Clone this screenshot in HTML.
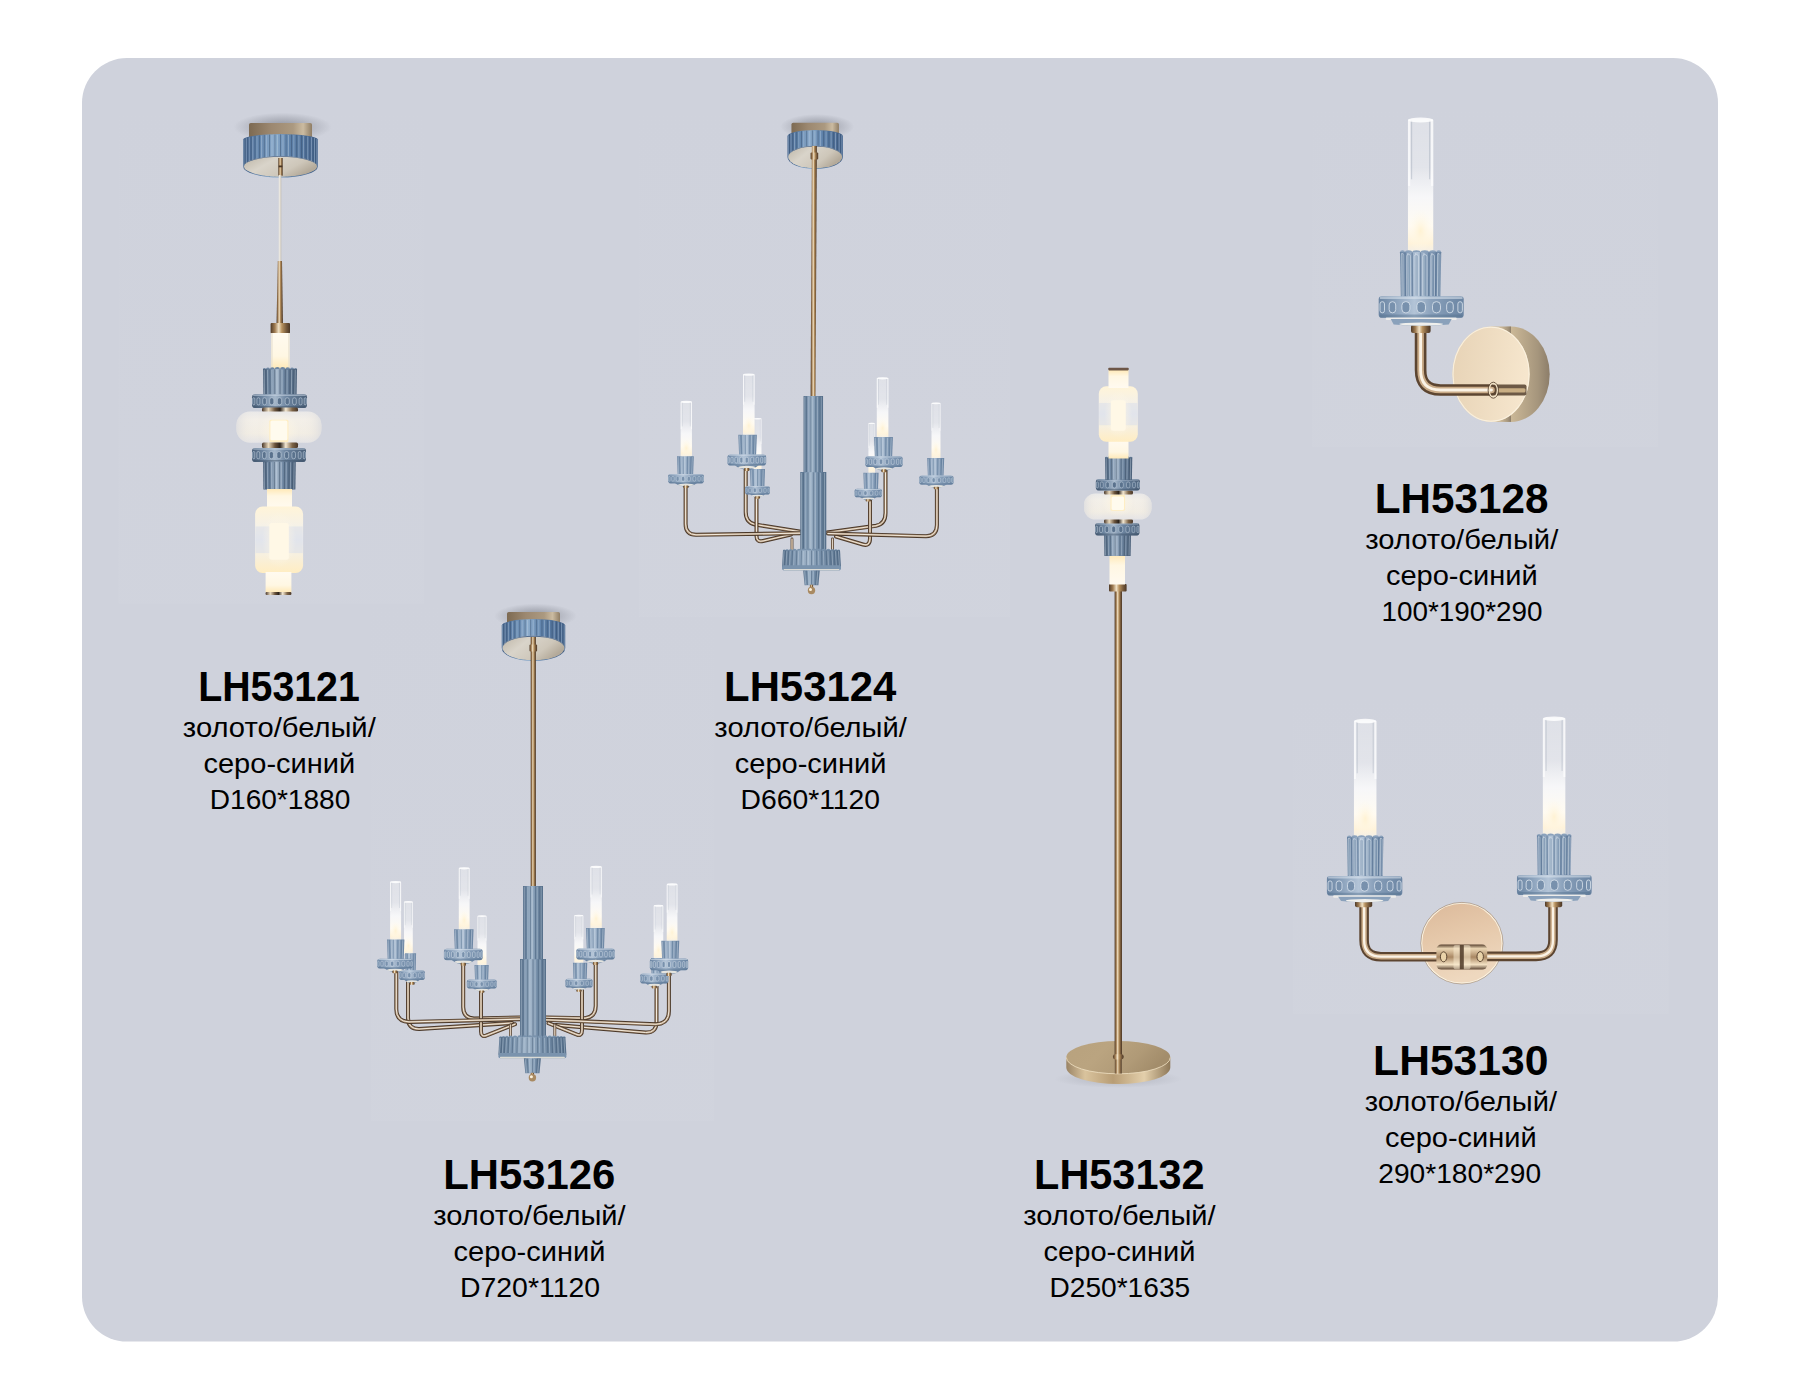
<!DOCTYPE html>
<html lang="ru">
<head>
<meta charset="utf-8">
<title>LH531xx</title>
<style>
html,body{margin:0;padding:0;background:#ffffff;}
body{width:1801px;height:1400px;overflow:hidden;font-family:"Liberation Sans",sans-serif;}
svg{display:block;position:absolute;left:0;top:0;}
.t{font-family:"Liberation Sans",sans-serif;font-weight:700;font-size:43.4px;fill:#000000;}
.b{font-family:"Liberation Sans",sans-serif;font-weight:400;font-size:28.4px;fill:#000000;}
</style>
</head>
<body>
<svg xmlns="http://www.w3.org/2000/svg" width="1801" height="1400" viewBox="0 0 1801 1400">
<defs>
<linearGradient id="gGold" x1="0" y1="0" x2="1" y2="0"><stop offset="0" stop-color="#4f3a27"/><stop offset="0.22" stop-color="#a07c52"/><stop offset="0.42" stop-color="#f1e2c6"/><stop offset="0.58" stop-color="#b8925f"/><stop offset="0.82" stop-color="#73573a"/><stop offset="1" stop-color="#4a3625"/></linearGradient>
<linearGradient id="gGoldV" x1="0" y1="0" x2="0" y2="1"><stop offset="0" stop-color="#6b5138"/><stop offset="0.3" stop-color="#f3e4c9"/><stop offset="0.6" stop-color="#bf9d70"/><stop offset="1" stop-color="#5f4630"/></linearGradient>
<linearGradient id="gGoldTop" x1="0" y1="0" x2="1" y2="0"><stop offset="0" stop-color="#7d6a52"/><stop offset="0.35" stop-color="#9c8870"/><stop offset="0.7" stop-color="#ab9980"/><stop offset="0.86" stop-color="#cbbba1"/><stop offset="1" stop-color="#8f7d64"/></linearGradient>
<linearGradient id="gGoldUnder" x1="0" y1="0" x2="1" y2="0.5"><stop offset="0" stop-color="#bdb5a6"/><stop offset="0.4" stop-color="#d9d4ca"/><stop offset="0.75" stop-color="#cec7ba"/><stop offset="1" stop-color="#b4aa9a"/></linearGradient>
<linearGradient id="gRing" x1="0" y1="0" x2="1" y2="0"><stop offset="0" stop-color="#4a382a"/><stop offset="0.18" stop-color="#e9d9bd"/><stop offset="0.36" stop-color="#6b543c"/><stop offset="0.5" stop-color="#2e241b"/><stop offset="0.66" stop-color="#f4e8d2"/><stop offset="0.84" stop-color="#7d6447"/><stop offset="1" stop-color="#4a382a"/></linearGradient>
<linearGradient id="gBlueD" x1="0" y1="0" x2="1" y2="0"><stop offset="0" stop-color="#4a5f78"/><stop offset="0.2" stop-color="#6e86a1"/><stop offset="0.42" stop-color="#a5b7ca"/><stop offset="0.62" stop-color="#6e86a1"/><stop offset="1" stop-color="#4a5f78"/></linearGradient>
<linearGradient id="gBlueL" x1="0" y1="0" x2="1" y2="0"><stop offset="0" stop-color="#6a84a2"/><stop offset="0.2" stop-color="#8aa1bb"/><stop offset="0.42" stop-color="#b3c4d7"/><stop offset="0.62" stop-color="#8aa1bb"/><stop offset="1" stop-color="#6a84a2"/></linearGradient>
<linearGradient id="gBlueK" x1="0" y1="0" x2="1" y2="0"><stop offset="0" stop-color="#556e89"/><stop offset="0.2" stop-color="#7a93ad"/><stop offset="0.42" stop-color="#a2b6ca"/><stop offset="0.62" stop-color="#7a93ad"/><stop offset="1" stop-color="#556e89"/></linearGradient>
<linearGradient id="gBlueC" x1="0" y1="0" x2="1" y2="0"><stop offset="0" stop-color="#43618a"/><stop offset="0.2" stop-color="#6083ab"/><stop offset="0.42" stop-color="#8babcb"/><stop offset="0.62" stop-color="#6083ab"/><stop offset="1" stop-color="#43618a"/></linearGradient>
<linearGradient id="gTube" x1="0" y1="0" x2="0" y2="1"><stop offset="0" stop-color="#ffffff" stop-opacity="0.32"/><stop offset="0.36" stop-color="#ffffff" stop-opacity="0.4"/><stop offset="0.58" stop-color="#fafafb" stop-opacity="0.92"/><stop offset="0.8" stop-color="#fffbf2" stop-opacity="1"/><stop offset="0.93" stop-color="#fff3da" stop-opacity="1"/><stop offset="1" stop-color="#f3efe8" stop-opacity="1"/></linearGradient>
<linearGradient id="gWarmV" x1="0" y1="0" x2="0" y2="1"><stop offset="0" stop-color="#fffaf0"/><stop offset="0.65" stop-color="#fff7e3"/><stop offset="1" stop-color="#ffe9b8"/></linearGradient>
<linearGradient id="gWarmV2" x1="0" y1="0" x2="0" y2="1"><stop offset="0" stop-color="#ffe9b8"/><stop offset="0.35" stop-color="#fff7e3"/><stop offset="1" stop-color="#fffaf0"/></linearGradient>
<linearGradient id="gBodyGlass" x1="0" y1="0" x2="0" y2="1"><stop offset="0" stop-color="#fff4d8"/><stop offset="0.3" stop-color="#f5f1e8"/><stop offset="0.5" stop-color="#e8ebf1"/><stop offset="0.72" stop-color="#f7f0e0"/><stop offset="1" stop-color="#ffedc2"/></linearGradient>
<linearGradient id="gTorus" x1="0" y1="0" x2="0" y2="1"><stop offset="0" stop-color="#e9e8e8"/><stop offset="0.25" stop-color="#f3efe8"/><stop offset="0.7" stop-color="#f2ede3"/><stop offset="1" stop-color="#e4e3e5"/></linearGradient>
<linearGradient id="gTorusH" x1="0" y1="0" x2="1" y2="0"><stop offset="0" stop-color="#d4d6dd" stop-opacity="0.6"/><stop offset="0.12" stop-color="#e6e4e2" stop-opacity="0.2"/><stop offset="0.28" stop-color="#ffffff" stop-opacity="0"/><stop offset="0.72" stop-color="#ffffff" stop-opacity="0"/><stop offset="0.88" stop-color="#e6e4e2" stop-opacity="0.2"/><stop offset="1" stop-color="#d4d6dd" stop-opacity="0.6"/></linearGradient>
<radialGradient id="gGlow" cx="0.5" cy="0.5" r="0.5"><stop offset="0" stop-color="#fff1cf" stop-opacity="0.85"/><stop offset="0.5" stop-color="#fff6e0" stop-opacity="0.45"/><stop offset="1" stop-color="#fff9ec" stop-opacity="0"/></radialGradient>
<radialGradient id="gShadow" cx="0.5" cy="0.5" r="0.5"><stop offset="0" stop-color="#4a4d58" stop-opacity="0.5"/><stop offset="0.55" stop-color="#4a4d58" stop-opacity="0.22"/><stop offset="1" stop-color="#4a4d58" stop-opacity="0"/></radialGradient>
<linearGradient id="gPhotoV" x1="0" y1="0" x2="0" y2="1"><stop offset="0" stop-color="#d3d6df" stop-opacity="0"/><stop offset="0.35" stop-color="#d3d6df" stop-opacity="0.14"/><stop offset="1" stop-color="#d3d6df" stop-opacity="0.36"/></linearGradient>
<linearGradient id="gBaseTop" x1="0" y1="0" x2="1" y2="0.3"><stop offset="0" stop-color="#b8a27e"/><stop offset="0.4" stop-color="#baa480"/><stop offset="0.75" stop-color="#b09a77"/><stop offset="1" stop-color="#a38d6b"/></linearGradient>
<linearGradient id="gBaseSide" x1="0" y1="0" x2="1" y2="0"><stop offset="0" stop-color="#9a8465"/><stop offset="0.18" stop-color="#d9c39d"/><stop offset="0.45" stop-color="#b89d75"/><stop offset="0.75" stop-color="#e3cfab"/><stop offset="1" stop-color="#8e7858"/></linearGradient>
<linearGradient id="gPlate" x1="0" y1="0" x2="1" y2="0.15"><stop offset="0" stop-color="#e7d3b6"/><stop offset="0.5" stop-color="#eedcc1"/><stop offset="1" stop-color="#f6e6cd"/></linearGradient>
<linearGradient id="gPlate2" x1="0" y1="0" x2="0.3" y2="1"><stop offset="0" stop-color="#dbb99a"/><stop offset="0.5" stop-color="#e6c9ab"/><stop offset="1" stop-color="#eed8bf"/></linearGradient>
<linearGradient id="gPlateSide" x1="0" y1="0" x2="1" y2="0"><stop offset="0" stop-color="#d9c7a8"/><stop offset="0.5" stop-color="#cbb897"/><stop offset="0.85" stop-color="#a5957c"/><stop offset="1" stop-color="#8c7d69"/></linearGradient>
<linearGradient id="gBlock" x1="0" y1="0" x2="0" y2="1"><stop offset="0" stop-color="#5a4331"/><stop offset="0.16" stop-color="#ead5b3"/><stop offset="0.5" stop-color="#a98763"/><stop offset="0.8" stop-color="#f3e1c3"/><stop offset="1" stop-color="#5a4331"/></linearGradient>
</defs>

<rect x="82" y="58" width="1636" height="1283.6" rx="45" ry="45" fill="#cfd2dc"/>
<clipPath id="cpPanel"><rect x="82" y="58" width="1636" height="1283.6" rx="45" ry="45"/></clipPath>
<g id="photos" clip-path="url(#cpPanel)"><rect x="118.5" y="100" width="305.5" height="503.6" fill="url(#gPhotoV)"/><rect x="639" y="100" width="371" height="517" fill="url(#gPhotoV)"/><rect x="371" y="590" width="343" height="531" fill="url(#gPhotoV)"/><rect x="1312" y="100" width="346" height="347" fill="url(#gPhotoV)"/><rect x="1293" y="690" width="375.6" height="324" fill="url(#gPhotoV)"/></g>

<g id="pendant"><ellipse cx="282.5" cy="127" rx="49.14" ry="14.38" fill="url(#gShadow)"/><rect x="249" y="123" width="63" height="16.5" fill="url(#gGoldTop)" rx="1.8"/><path d="M243.15 139.6 A37.35 5.6 0 0 1 317.85 139.6 L317.85 166.4 A37.35 11.1 0 0 1 243.15 166.4Z" fill="url(#gBlueC)"/><line x1="243.97" y1="139.24" x2="243.97" y2="167.51" stroke="#c9d9e9" stroke-width="0.7" stroke-opacity="0.55"/><line x1="245.15" y1="138.19" x2="245.15" y2="169.38" stroke="#344d6c" stroke-width="0.8" stroke-opacity="0.6"/><line x1="246.27" y1="138.16" x2="246.27" y2="169.64" stroke="#c9d9e9" stroke-width="0.7" stroke-opacity="0.55"/><line x1="247.82" y1="137.29" x2="247.82" y2="171.18" stroke="#344d6c" stroke-width="0.8" stroke-opacity="0.6"/><line x1="249.23" y1="137.34" x2="249.23" y2="171.27" stroke="#c9d9e9" stroke-width="0.7" stroke-opacity="0.55"/><line x1="251.13" y1="136.54" x2="251.13" y2="172.66" stroke="#344d6c" stroke-width="0.8" stroke-opacity="0.6"/><line x1="252.82" y1="136.64" x2="252.82" y2="172.65" stroke="#c9d9e9" stroke-width="0.7" stroke-opacity="0.55"/><line x1="255.03" y1="135.9" x2="255.03" y2="173.92" stroke="#344d6c" stroke-width="0.8" stroke-opacity="0.6"/><line x1="256.96" y1="136.05" x2="256.96" y2="173.82" stroke="#c9d9e9" stroke-width="0.7" stroke-opacity="0.55"/><line x1="259.46" y1="135.37" x2="259.46" y2="174.97" stroke="#344d6c" stroke-width="0.8" stroke-opacity="0.6"/><line x1="261.59" y1="135.57" x2="261.59" y2="174.77" stroke="#c9d9e9" stroke-width="0.7" stroke-opacity="0.55"/><line x1="264.31" y1="134.95" x2="264.31" y2="175.8" stroke="#344d6c" stroke-width="0.8" stroke-opacity="0.6"/><line x1="266.62" y1="135.2" x2="266.62" y2="175.5" stroke="#c9d9e9" stroke-width="0.7" stroke-opacity="0.55"/><line x1="269.52" y1="134.65" x2="269.52" y2="176.41" stroke="#344d6c" stroke-width="0.8" stroke-opacity="0.6"/><line x1="271.94" y1="134.95" x2="271.94" y2="176" stroke="#c9d9e9" stroke-width="0.7" stroke-opacity="0.55"/><line x1="274.95" y1="134.46" x2="274.95" y2="176.78" stroke="#344d6c" stroke-width="0.8" stroke-opacity="0.6"/><line x1="277.44" y1="134.82" x2="277.44" y2="176.26" stroke="#c9d9e9" stroke-width="0.7" stroke-opacity="0.55"/><line x1="280.5" y1="134.4" x2="280.5" y2="176.9" stroke="#344d6c" stroke-width="0.8" stroke-opacity="0.6"/><line x1="283.01" y1="134.81" x2="283.01" y2="176.28" stroke="#c9d9e9" stroke-width="0.7" stroke-opacity="0.55"/><line x1="286.05" y1="134.46" x2="286.05" y2="176.78" stroke="#344d6c" stroke-width="0.8" stroke-opacity="0.6"/><line x1="288.52" y1="134.93" x2="288.52" y2="176.04" stroke="#c9d9e9" stroke-width="0.7" stroke-opacity="0.55"/><line x1="291.48" y1="134.65" x2="291.48" y2="176.41" stroke="#344d6c" stroke-width="0.8" stroke-opacity="0.6"/><line x1="293.86" y1="135.17" x2="293.86" y2="175.57" stroke="#c9d9e9" stroke-width="0.7" stroke-opacity="0.55"/><line x1="296.69" y1="134.95" x2="296.69" y2="175.8" stroke="#344d6c" stroke-width="0.8" stroke-opacity="0.6"/><line x1="298.92" y1="135.53" x2="298.92" y2="174.86" stroke="#c9d9e9" stroke-width="0.7" stroke-opacity="0.55"/><line x1="301.54" y1="135.37" x2="301.54" y2="174.97" stroke="#344d6c" stroke-width="0.8" stroke-opacity="0.6"/><line x1="303.59" y1="136" x2="303.59" y2="173.92" stroke="#c9d9e9" stroke-width="0.7" stroke-opacity="0.55"/><line x1="305.97" y1="135.9" x2="305.97" y2="173.92" stroke="#344d6c" stroke-width="0.8" stroke-opacity="0.6"/><line x1="307.79" y1="136.58" x2="307.79" y2="172.78" stroke="#c9d9e9" stroke-width="0.7" stroke-opacity="0.55"/><line x1="309.87" y1="136.54" x2="309.87" y2="172.66" stroke="#344d6c" stroke-width="0.8" stroke-opacity="0.6"/><line x1="311.43" y1="137.26" x2="311.43" y2="171.42" stroke="#c9d9e9" stroke-width="0.7" stroke-opacity="0.55"/><line x1="313.18" y1="137.29" x2="313.18" y2="171.18" stroke="#344d6c" stroke-width="0.8" stroke-opacity="0.6"/><line x1="314.46" y1="138.07" x2="314.46" y2="169.82" stroke="#c9d9e9" stroke-width="0.7" stroke-opacity="0.55"/><line x1="315.85" y1="138.19" x2="315.85" y2="169.38" stroke="#344d6c" stroke-width="0.8" stroke-opacity="0.6"/><line x1="316.83" y1="139.1" x2="316.83" y2="167.77" stroke="#c9d9e9" stroke-width="0.7" stroke-opacity="0.55"/><ellipse cx="280.5" cy="166.4" rx="36.55" ry="10.3" fill="url(#gGoldUnder)"/><path d="M243.95 166.4 A36.55 10.3 0 0 1 317.05 166.4 A36.55 9.58 0 0 0 243.95 166.4Z" fill="#43618a" fill-opacity="0.9"/><path d="M259.96 159.52 A20.54 3.33 0 0 1 301.04 159.52 A20.54 2.44 0 0 0 259.96 159.52Z" fill="#e9e4d8" fill-opacity="0.0"/><rect x="278.3" y="158" width="4.4" height="17.7" fill="url(#gGold)"/><rect x="278.7" y="165.5" width="3.6" height="1.8" fill="#4a3625"/><line x1="279.9" y1="175" x2="279.9" y2="262" stroke="#e9e6df" stroke-width="2.3"/><line x1="280.9" y1="175" x2="280.9" y2="262" stroke="#b7b0a2" stroke-width="0.6"/><path d="M277.8 261 L282 261 L283 324 L276.5 324Z" fill="url(#gGold)"/><rect x="270.6" y="323" width="19.4" height="10.5" fill="url(#gGold)" rx="1"/><rect x="271.2" y="333" width="18.4" height="35.5" fill="url(#gWarmV)"/><rect x="271.2" y="333" width="1.6" height="35" fill="#e9e2d2" fill-opacity="0.7"/><rect x="288" y="333" width="1.6" height="35" fill="#e9e2d2" fill-opacity="0.7"/><ellipse cx="264.46" cy="369.3" rx="1.46" ry="1.23" fill="#6e86a1"/><ellipse cx="267.92" cy="369.3" rx="2" ry="1.68" fill="#6e86a1"/><ellipse cx="272.33" cy="369.3" rx="2.41" ry="2.02" fill="#6e86a1"/><ellipse cx="277.37" cy="369.3" rx="2.63" ry="2.2" fill="#6e86a1"/><ellipse cx="282.63" cy="369.3" rx="2.63" ry="2.2" fill="#6e86a1"/><ellipse cx="287.67" cy="369.3" rx="2.41" ry="2.02" fill="#6e86a1"/><ellipse cx="292.08" cy="369.3" rx="2" ry="1.68" fill="#6e86a1"/><ellipse cx="295.54" cy="369.3" rx="1.46" ry="1.23" fill="#6e86a1"/><path d="M263 369 L297 369 L296.6 395 L263.4 395Z" fill="url(#gBlueD)"/><line x1="264.17" y1="369.8" x2="264.54" y2="394.4" stroke="#c9d6e3" stroke-width="0.85" stroke-opacity="0.5"/><line x1="265.92" y1="369.3" x2="266.25" y2="394.8" stroke="#3a4d63" stroke-width="0.85" stroke-opacity="0.62"/><line x1="267.52" y1="369.8" x2="267.81" y2="394.4" stroke="#c9d6e3" stroke-width="0.85" stroke-opacity="0.5"/><line x1="269.92" y1="369.3" x2="270.15" y2="394.8" stroke="#3a4d63" stroke-width="0.85" stroke-opacity="0.62"/><line x1="271.84" y1="369.8" x2="272.04" y2="394.4" stroke="#c9d6e3" stroke-width="0.85" stroke-opacity="0.5"/><line x1="274.73" y1="369.3" x2="274.86" y2="394.8" stroke="#3a4d63" stroke-width="0.85" stroke-opacity="0.62"/><line x1="276.84" y1="369.8" x2="276.92" y2="394.4" stroke="#c9d6e3" stroke-width="0.85" stroke-opacity="0.5"/><line x1="280" y1="369.3" x2="280" y2="394.8" stroke="#3a4d63" stroke-width="0.85" stroke-opacity="0.62"/><line x1="282.11" y1="369.8" x2="282.06" y2="394.4" stroke="#c9d6e3" stroke-width="0.85" stroke-opacity="0.5"/><line x1="285.27" y1="369.3" x2="285.14" y2="394.8" stroke="#3a4d63" stroke-width="0.85" stroke-opacity="0.62"/><line x1="287.19" y1="369.8" x2="287.02" y2="394.4" stroke="#c9d6e3" stroke-width="0.85" stroke-opacity="0.5"/><line x1="290.08" y1="369.3" x2="289.85" y2="394.8" stroke="#3a4d63" stroke-width="0.85" stroke-opacity="0.62"/><line x1="291.68" y1="369.8" x2="291.41" y2="394.4" stroke="#c9d6e3" stroke-width="0.85" stroke-opacity="0.5"/><line x1="294.08" y1="369.3" x2="293.75" y2="394.8" stroke="#3a4d63" stroke-width="0.85" stroke-opacity="0.62"/><line x1="295.25" y1="369.8" x2="294.89" y2="394.4" stroke="#c9d6e3" stroke-width="0.85" stroke-opacity="0.5"/><rect x="252" y="394.3" width="55" height="13.7" fill="url(#gBlueD)" rx="3"/><rect x="253.2" y="394.5" width="52.6" height="1.58" fill="#c9d6e3" rx="0.4" fill-opacity="0.55"/><rect x="253.2" y="405.94" width="52.6" height="1.95" fill="#3a4d63" rx="0.4" fill-opacity="0.45"/><rect x="252.66" y="397.73" width="2.16" height="7.12" rx="1.08" fill="#5a728d" stroke="#c9d6e3" stroke-opacity="0.8" stroke-width="0.68"/><rect x="256.93" y="397.73" width="2.99" height="7.12" rx="1.5" fill="#5a728d" stroke="#c9d6e3" stroke-opacity="0.8" stroke-width="0.68"/><rect x="262.71" y="397.73" width="3.68" height="7.12" rx="1.84" fill="#5a728d" stroke="#c9d6e3" stroke-opacity="0.8" stroke-width="0.68"/><rect x="269.68" y="397.73" width="4.12" height="7.12" rx="2.06" fill="#5a728d" stroke="#c9d6e3" stroke-opacity="0.8" stroke-width="0.68"/><rect x="277.36" y="397.73" width="4.28" height="7.12" rx="2.14" fill="#5a728d" stroke="#c9d6e3" stroke-opacity="0.8" stroke-width="0.68"/><rect x="285.2" y="397.73" width="4.12" height="7.12" rx="2.06" fill="#5a728d" stroke="#c9d6e3" stroke-opacity="0.8" stroke-width="0.68"/><rect x="292.61" y="397.73" width="3.68" height="7.12" rx="1.84" fill="#5a728d" stroke="#c9d6e3" stroke-opacity="0.8" stroke-width="0.68"/><rect x="299.08" y="397.73" width="2.99" height="7.12" rx="1.5" fill="#5a728d" stroke="#c9d6e3" stroke-opacity="0.8" stroke-width="0.68"/><rect x="304.18" y="397.73" width="2.16" height="7.12" rx="1.08" fill="#5a728d" stroke="#c9d6e3" stroke-opacity="0.8" stroke-width="0.68"/><rect x="262" y="407.5" width="36" height="4.5" fill="url(#gRing)" rx="1.6"/><rect x="236.4" y="411.6" width="85" height="31.2" fill="url(#gTorus)" rx="13.73"/><rect x="236.4" y="411.6" width="85" height="31.2" fill="url(#gTorusH)" rx="13.73"/><ellipse cx="278.9" cy="430.96" rx="20.4" ry="19.11" fill="url(#gGlow)"/><rect x="269.4" y="419.71" width="19" height="22.49" fill="#ffeec2" rx="1.5"/><rect x="270.4" y="420.51" width="17" height="19.69" fill="#fffbee" rx="1.5"/><rect x="262" y="442.6" width="36" height="5.4" fill="url(#gRing)" rx="1.6"/><rect x="252" y="448" width="54" height="14" fill="url(#gBlueD)" rx="3"/><rect x="253.2" y="448.2" width="51.6" height="1.62" fill="#c9d6e3" rx="0.4" fill-opacity="0.55"/><rect x="253.2" y="459.9" width="51.6" height="2" fill="#3a4d63" rx="0.4" fill-opacity="0.45"/><rect x="252.65" y="451.5" width="2.12" height="7.28" rx="1.06" fill="#5a728d" stroke="#c9d6e3" stroke-opacity="0.8" stroke-width="0.7"/><rect x="256.84" y="451.5" width="2.94" height="7.28" rx="1.47" fill="#5a728d" stroke="#c9d6e3" stroke-opacity="0.8" stroke-width="0.7"/><rect x="262.52" y="451.5" width="3.61" height="7.28" rx="1.81" fill="#5a728d" stroke="#c9d6e3" stroke-opacity="0.8" stroke-width="0.7"/><rect x="269.36" y="451.5" width="4.05" height="7.28" rx="2.02" fill="#5a728d" stroke="#c9d6e3" stroke-opacity="0.8" stroke-width="0.7"/><rect x="276.9" y="451.5" width="4.2" height="7.28" rx="2.1" fill="#5a728d" stroke="#c9d6e3" stroke-opacity="0.8" stroke-width="0.7"/><rect x="284.59" y="451.5" width="4.05" height="7.28" rx="2.02" fill="#5a728d" stroke="#c9d6e3" stroke-opacity="0.8" stroke-width="0.7"/><rect x="291.87" y="451.5" width="3.61" height="7.28" rx="1.81" fill="#5a728d" stroke="#c9d6e3" stroke-opacity="0.8" stroke-width="0.7"/><rect x="298.22" y="451.5" width="2.94" height="7.28" rx="1.47" fill="#5a728d" stroke="#c9d6e3" stroke-opacity="0.8" stroke-width="0.7"/><rect x="303.24" y="451.5" width="2.12" height="7.28" rx="1.06" fill="#5a728d" stroke="#c9d6e3" stroke-opacity="0.8" stroke-width="0.7"/><path d="M263 461.5 L295.8 461.5 L295.4 489.5 L263.4 489.5Z" fill="url(#gBlueD)"/><line x1="264.13" y1="462.3" x2="264.5" y2="488.9" stroke="#c9d6e3" stroke-width="0.82" stroke-opacity="0.5"/><line x1="265.82" y1="461.8" x2="266.15" y2="489.3" stroke="#3a4d63" stroke-width="0.82" stroke-opacity="0.62"/><line x1="267.36" y1="462.3" x2="267.65" y2="488.9" stroke="#c9d6e3" stroke-width="0.82" stroke-opacity="0.5"/><line x1="269.67" y1="461.8" x2="269.91" y2="489.3" stroke="#3a4d63" stroke-width="0.82" stroke-opacity="0.62"/><line x1="271.53" y1="462.3" x2="271.72" y2="488.9" stroke="#c9d6e3" stroke-width="0.82" stroke-opacity="0.5"/><line x1="274.32" y1="461.8" x2="274.44" y2="489.3" stroke="#3a4d63" stroke-width="0.82" stroke-opacity="0.62"/><line x1="276.35" y1="462.3" x2="276.43" y2="488.9" stroke="#c9d6e3" stroke-width="0.82" stroke-opacity="0.5"/><line x1="279.4" y1="461.8" x2="279.4" y2="489.3" stroke="#3a4d63" stroke-width="0.82" stroke-opacity="0.62"/><line x1="281.43" y1="462.3" x2="281.38" y2="488.9" stroke="#c9d6e3" stroke-width="0.82" stroke-opacity="0.5"/><line x1="284.48" y1="461.8" x2="284.36" y2="489.3" stroke="#3a4d63" stroke-width="0.82" stroke-opacity="0.62"/><line x1="286.34" y1="462.3" x2="286.17" y2="488.9" stroke="#c9d6e3" stroke-width="0.82" stroke-opacity="0.5"/><line x1="289.13" y1="461.8" x2="288.89" y2="489.3" stroke="#3a4d63" stroke-width="0.82" stroke-opacity="0.62"/><line x1="290.67" y1="462.3" x2="290.4" y2="488.9" stroke="#c9d6e3" stroke-width="0.82" stroke-opacity="0.5"/><line x1="292.98" y1="461.8" x2="292.65" y2="489.3" stroke="#3a4d63" stroke-width="0.82" stroke-opacity="0.62"/><line x1="294.11" y1="462.3" x2="293.75" y2="488.9" stroke="#c9d6e3" stroke-width="0.82" stroke-opacity="0.5"/><rect x="267" y="489" width="25" height="20" fill="url(#gWarmV2)"/><rect x="255.1" y="506.5" width="48" height="66.5" fill="url(#gBodyGlass)" rx="7.5"/><rect x="255.5" y="526.45" width="47.2" height="26.6" fill="#dde1e8" fill-opacity="0.62"/><ellipse cx="279.1" cy="539.75" rx="17.28" ry="27.93" fill="url(#gGlow)"/><rect x="269.35" y="523.12" width="19.5" height="36.58" fill="#fff8e6" rx="2.5" fill-opacity="0.96"/><rect x="265.6" y="572" width="25.8" height="20.3" fill="url(#gWarmV)"/><rect x="265.6" y="592" width="25.8" height="3" fill="url(#gRing)" rx="1"/></g>

<g id="chandelier6"><ellipse cx="817.2" cy="126.7" rx="37.05" ry="12.72" fill="url(#gShadow)"/><rect x="791.45" y="122.7" width="47.5" height="14.3" fill="url(#gGoldTop)" rx="1.8"/><path d="M787.45 136 A27.75 6 0 0 1 842.95 136 L842.95 157 A27.75 12 0 0 1 787.45 157Z" fill="url(#gBlueC)"/><line x1="788.32" y1="135.31" x2="788.32" y2="158.78" stroke="#c9d9e9" stroke-width="0.7" stroke-opacity="0.55"/><line x1="789.64" y1="134.06" x2="789.64" y2="161.07" stroke="#344d6c" stroke-width="0.8" stroke-opacity="0.6"/><line x1="790.94" y1="133.89" x2="790.94" y2="161.62" stroke="#c9d9e9" stroke-width="0.7" stroke-opacity="0.55"/><line x1="792.77" y1="132.87" x2="792.77" y2="163.47" stroke="#344d6c" stroke-width="0.8" stroke-opacity="0.6"/><line x1="794.47" y1="132.81" x2="794.47" y2="163.78" stroke="#c9d9e9" stroke-width="0.7" stroke-opacity="0.55"/><line x1="796.76" y1="131.92" x2="796.76" y2="165.37" stroke="#344d6c" stroke-width="0.8" stroke-opacity="0.6"/><line x1="798.8" y1="131.96" x2="798.8" y2="165.48" stroke="#c9d9e9" stroke-width="0.7" stroke-opacity="0.55"/><line x1="801.47" y1="131.19" x2="801.47" y2="166.83" stroke="#344d6c" stroke-width="0.8" stroke-opacity="0.6"/><line x1="803.78" y1="131.33" x2="803.78" y2="166.74" stroke="#c9d9e9" stroke-width="0.7" stroke-opacity="0.55"/><line x1="806.73" y1="130.69" x2="806.73" y2="167.83" stroke="#344d6c" stroke-width="0.8" stroke-opacity="0.6"/><line x1="809.23" y1="130.94" x2="809.23" y2="167.52" stroke="#c9d9e9" stroke-width="0.7" stroke-opacity="0.55"/><line x1="812.34" y1="130.43" x2="812.34" y2="168.34" stroke="#344d6c" stroke-width="0.8" stroke-opacity="0.6"/><line x1="814.91" y1="130.8" x2="814.91" y2="167.8" stroke="#c9d9e9" stroke-width="0.7" stroke-opacity="0.55"/><line x1="818.06" y1="130.43" x2="818.06" y2="168.34" stroke="#344d6c" stroke-width="0.8" stroke-opacity="0.6"/><line x1="820.61" y1="130.92" x2="820.61" y2="167.57" stroke="#c9d9e9" stroke-width="0.7" stroke-opacity="0.55"/><line x1="823.67" y1="130.69" x2="823.67" y2="167.83" stroke="#344d6c" stroke-width="0.8" stroke-opacity="0.6"/><line x1="826.09" y1="131.28" x2="826.09" y2="166.84" stroke="#c9d9e9" stroke-width="0.7" stroke-opacity="0.55"/><line x1="828.93" y1="131.19" x2="828.93" y2="166.83" stroke="#344d6c" stroke-width="0.8" stroke-opacity="0.6"/><line x1="831.13" y1="131.89" x2="831.13" y2="165.63" stroke="#c9d9e9" stroke-width="0.7" stroke-opacity="0.55"/><line x1="833.64" y1="131.92" x2="833.64" y2="165.37" stroke="#344d6c" stroke-width="0.8" stroke-opacity="0.6"/><line x1="835.53" y1="132.72" x2="835.53" y2="163.97" stroke="#c9d9e9" stroke-width="0.7" stroke-opacity="0.55"/><line x1="837.63" y1="132.87" x2="837.63" y2="163.47" stroke="#344d6c" stroke-width="0.8" stroke-opacity="0.6"/><line x1="839.15" y1="133.77" x2="839.15" y2="161.86" stroke="#c9d9e9" stroke-width="0.7" stroke-opacity="0.55"/><line x1="840.76" y1="134.06" x2="840.76" y2="161.07" stroke="#344d6c" stroke-width="0.8" stroke-opacity="0.6"/><line x1="841.86" y1="135.14" x2="841.86" y2="159.12" stroke="#c9d9e9" stroke-width="0.7" stroke-opacity="0.55"/><ellipse cx="815.2" cy="157" rx="26.95" ry="11.2" fill="url(#gGoldUnder)"/><path d="M788.25 157 A26.95 11.2 0 0 1 842.15 157 A26.95 10.42 0 0 0 788.25 157Z" fill="#43618a" fill-opacity="0.9"/><path d="M799.94 149.56 A15.26 3.6 0 0 1 830.46 149.56 A15.26 2.64 0 0 0 799.94 149.56Z" fill="#e9e4d8" fill-opacity="0.0"/><path d="M811.9 146 L816.9 146 L815.5 397 L810.6 397Z" fill="url(#gGold)"/><rect x="810.6" y="152.5" width="7.6" height="7" fill="url(#gGold)" rx="1"/><path d="M745.7 466 V512 Q745.7 522.5 755 524.5 L801 531.8" fill="none" stroke="#4a3829" stroke-width="4" stroke-linecap="round" stroke-linejoin="round"/><path d="M745.7 466 V512 Q745.7 522.5 755 524.5 L801 531.8" fill="none" stroke="#a98e72" stroke-width="2.24" stroke-linecap="round" stroke-linejoin="round"/><path d="M745.7 466 V512 Q745.7 522.5 755 524.5 L801 531.8" fill="none" stroke="#f6eee2" stroke-width="0.96" stroke-linecap="round" stroke-linejoin="round"/><path d="M885.5 468 V513 Q885.5 524 876 525.8 L827 532.5" fill="none" stroke="#4a3829" stroke-width="4" stroke-linecap="round" stroke-linejoin="round"/><path d="M885.5 468 V513 Q885.5 524 876 525.8 L827 532.5" fill="none" stroke="#a98e72" stroke-width="2.24" stroke-linecap="round" stroke-linejoin="round"/><path d="M885.5 468 V513 Q885.5 524 876 525.8 L827 532.5" fill="none" stroke="#f6eee2" stroke-width="0.96" stroke-linecap="round" stroke-linejoin="round"/><path d="M756.5 496 V536 Q756.5 542.5 763 541 L791 534.5" fill="none" stroke="#4a3829" stroke-width="4" stroke-linecap="round" stroke-linejoin="round"/><path d="M756.5 496 V536 Q756.5 542.5 763 541 L791 534.5" fill="none" stroke="#a98e72" stroke-width="2.24" stroke-linecap="round" stroke-linejoin="round"/><path d="M756.5 496 V536 Q756.5 542.5 763 541 L791 534.5" fill="none" stroke="#f6eee2" stroke-width="0.96" stroke-linecap="round" stroke-linejoin="round"/><path d="M870 499 V538.5 Q870 546.5 863 544.5 L836 536.5" fill="none" stroke="#4a3829" stroke-width="4" stroke-linecap="round" stroke-linejoin="round"/><path d="M870 499 V538.5 Q870 546.5 863 544.5 L836 536.5" fill="none" stroke="#a98e72" stroke-width="2.24" stroke-linecap="round" stroke-linejoin="round"/><path d="M870 499 V538.5 Q870 546.5 863 544.5 L836 536.5" fill="none" stroke="#f6eee2" stroke-width="0.96" stroke-linecap="round" stroke-linejoin="round"/><path d="M685.6 487 V524 Q685.6 534.6 696 534.8 L800 533.2" fill="none" stroke="#4a3829" stroke-width="4" stroke-linecap="round" stroke-linejoin="round"/><path d="M685.6 487 V524 Q685.6 534.6 696 534.8 L800 533.2" fill="none" stroke="#a98e72" stroke-width="2.24" stroke-linecap="round" stroke-linejoin="round"/><path d="M685.6 487 V524 Q685.6 534.6 696 534.8 L800 533.2" fill="none" stroke="#f6eee2" stroke-width="0.96" stroke-linecap="round" stroke-linejoin="round"/><path d="M936.9 487 V525 Q936.9 536 926 536.2 L828 533.5" fill="none" stroke="#4a3829" stroke-width="4" stroke-linecap="round" stroke-linejoin="round"/><path d="M936.9 487 V525 Q936.9 536 926 536.2 L828 533.5" fill="none" stroke="#a98e72" stroke-width="2.24" stroke-linecap="round" stroke-linejoin="round"/><path d="M936.9 487 V525 Q936.9 536 926 536.2 L828 533.5" fill="none" stroke="#f6eee2" stroke-width="0.96" stroke-linecap="round" stroke-linejoin="round"/><path d="M792 539 V552" fill="none" stroke="#4a3829" stroke-width="2.8" stroke-linecap="round" stroke-linejoin="round"/><path d="M792 539 V552" fill="none" stroke="#a98e72" stroke-width="1.57" stroke-linecap="round" stroke-linejoin="round"/><path d="M792 539 V552" fill="none" stroke="#f6eee2" stroke-width="0.7" stroke-linecap="round" stroke-linejoin="round"/><path d="M803.5 539 V552" fill="none" stroke="#4a3829" stroke-width="2.8" stroke-linecap="round" stroke-linejoin="round"/><path d="M803.5 539 V552" fill="none" stroke="#a98e72" stroke-width="1.57" stroke-linecap="round" stroke-linejoin="round"/><path d="M803.5 539 V552" fill="none" stroke="#f6eee2" stroke-width="0.7" stroke-linecap="round" stroke-linejoin="round"/><path d="M823.5 539 V552" fill="none" stroke="#4a3829" stroke-width="2.8" stroke-linecap="round" stroke-linejoin="round"/><path d="M823.5 539 V552" fill="none" stroke="#a98e72" stroke-width="1.57" stroke-linecap="round" stroke-linejoin="round"/><path d="M823.5 539 V552" fill="none" stroke="#f6eee2" stroke-width="0.7" stroke-linecap="round" stroke-linejoin="round"/><path d="M832.5 539 V552" fill="none" stroke="#4a3829" stroke-width="2.8" stroke-linecap="round" stroke-linejoin="round"/><path d="M832.5 539 V552" fill="none" stroke="#a98e72" stroke-width="1.57" stroke-linecap="round" stroke-linejoin="round"/><path d="M832.5 539 V552" fill="none" stroke="#f6eee2" stroke-width="0.7" stroke-linecap="round" stroke-linejoin="round"/><rect x="753.5" y="418" width="8" height="52" fill="url(#gTube)" rx="1.5"/><line x1="753.86" y1="418.5" x2="753.86" y2="444" stroke="#ffffff" stroke-width="0.72" stroke-opacity="0.7"/><line x1="761.14" y1="418.5" x2="761.14" y2="444" stroke="#ffffff" stroke-width="0.72" stroke-opacity="0.7"/><line x1="754.65" y1="419" x2="754.65" y2="441.4" stroke="#9aa4b5" stroke-width="0.36" stroke-opacity="0.4"/><line x1="760.35" y1="419" x2="760.35" y2="441.4" stroke="#9aa4b5" stroke-width="0.36" stroke-opacity="0.4"/><ellipse cx="757.5" cy="418.7" rx="3.9" ry="0.8" fill="#ffffff" fill-opacity="0.85"/><ellipse cx="757.5" cy="461.62" rx="3.84" ry="8.38" fill="url(#gGlow)"/><path d="M750 469 L765 469 L764.4 486.6 L750.6 486.6Z" fill="url(#gBlueL)"/><line x1="751.22" y1="469.8" x2="751.72" y2="486" stroke="#dde6ef" stroke-width="0.75" stroke-opacity="0.5"/><line x1="753.05" y1="469.3" x2="753.41" y2="486.4" stroke="#54708f" stroke-width="0.75" stroke-opacity="0.62"/><line x1="754.83" y1="469.8" x2="755.04" y2="486" stroke="#dde6ef" stroke-width="0.75" stroke-opacity="0.5"/><line x1="757.5" y1="469.3" x2="757.5" y2="486.4" stroke="#54708f" stroke-width="0.75" stroke-opacity="0.62"/><line x1="759.28" y1="469.8" x2="759.14" y2="486" stroke="#dde6ef" stroke-width="0.75" stroke-opacity="0.5"/><line x1="761.95" y1="469.3" x2="761.59" y2="486.4" stroke="#54708f" stroke-width="0.75" stroke-opacity="0.62"/><line x1="763.17" y1="469.8" x2="762.72" y2="486" stroke="#dde6ef" stroke-width="0.75" stroke-opacity="0.5"/><rect x="745" y="486" width="25" height="8.5" fill="url(#gBlueL)" rx="2.55"/><rect x="746.2" y="486.2" width="22.6" height="0.91" fill="#dde6ef" rx="0.4" fill-opacity="0.55"/><rect x="746.2" y="493.23" width="22.6" height="1.17" fill="#54708f" rx="0.4" fill-opacity="0.45"/><rect x="745.44" y="488.12" width="1.62" height="4.42" rx="0.81" fill="#7891ad" stroke="#dde6ef" stroke-opacity="0.8" stroke-width="0.42"/><rect x="748.75" y="488.12" width="2.4" height="4.42" rx="1.2" fill="#7891ad" stroke="#dde6ef" stroke-opacity="0.8" stroke-width="0.42"/><rect x="753.41" y="488.12" width="2.86" height="4.42" rx="1.43" fill="#7891ad" stroke="#dde6ef" stroke-opacity="0.8" stroke-width="0.42"/><rect x="758.73" y="488.12" width="2.86" height="4.42" rx="1.43" fill="#7891ad" stroke="#dde6ef" stroke-opacity="0.8" stroke-width="0.42"/><rect x="763.84" y="488.12" width="2.4" height="4.42" rx="1.2" fill="#7891ad" stroke="#dde6ef" stroke-opacity="0.8" stroke-width="0.42"/><rect x="767.94" y="488.12" width="1.62" height="4.42" rx="0.81" fill="#7891ad" stroke="#dde6ef" stroke-opacity="0.8" stroke-width="0.42"/><path d="M749.75 494.1 L765.25 494.1 Q757.5 500.93 749.75 494.1 Z" fill="#6a84a2"/><ellipse cx="757.5" cy="495.79" rx="5.58" ry="1.1" fill="#f2eee6" fill-opacity="0.9"/><rect x="754.9" y="496.34" width="5.2" height="2.29" fill="url(#gGold)" rx="0.8"/><rect x="868.4" y="422.7" width="6.6" height="51" fill="url(#gTube)" rx="1.32"/><line x1="868.7" y1="423.2" x2="868.7" y2="448.2" stroke="#ffffff" stroke-width="0.59" stroke-opacity="0.7"/><line x1="874.7" y1="423.2" x2="874.7" y2="448.2" stroke="#ffffff" stroke-width="0.59" stroke-opacity="0.7"/><line x1="869.35" y1="423.7" x2="869.35" y2="445.65" stroke="#9aa4b5" stroke-width="0.35" stroke-opacity="0.4"/><line x1="874.05" y1="423.7" x2="874.05" y2="445.65" stroke="#9aa4b5" stroke-width="0.35" stroke-opacity="0.4"/><ellipse cx="871.7" cy="423.4" rx="3.2" ry="0.7" fill="#ffffff" fill-opacity="0.85"/><ellipse cx="871.7" cy="465.48" rx="3.17" ry="8.22" fill="url(#gGlow)"/><path d="M863.4 472.7 L878.6 472.7 L877.99 489.4 L864.01 489.4Z" fill="url(#gBlueL)"/><line x1="864.64" y1="473.5" x2="865.15" y2="488.8" stroke="#dde6ef" stroke-width="0.76" stroke-opacity="0.5"/><line x1="866.49" y1="473" x2="866.85" y2="489.2" stroke="#54708f" stroke-width="0.76" stroke-opacity="0.62"/><line x1="868.3" y1="473.5" x2="868.51" y2="488.8" stroke="#dde6ef" stroke-width="0.76" stroke-opacity="0.5"/><line x1="871" y1="473" x2="871" y2="489.2" stroke="#54708f" stroke-width="0.76" stroke-opacity="0.62"/><line x1="872.8" y1="473.5" x2="872.66" y2="488.8" stroke="#dde6ef" stroke-width="0.76" stroke-opacity="0.5"/><line x1="875.51" y1="473" x2="875.15" y2="489.2" stroke="#54708f" stroke-width="0.76" stroke-opacity="0.62"/><line x1="876.74" y1="473.5" x2="876.29" y2="488.8" stroke="#dde6ef" stroke-width="0.76" stroke-opacity="0.5"/><rect x="854.55" y="488.8" width="27.5" height="8.5" fill="url(#gBlueL)" rx="2.55"/><rect x="855.75" y="489" width="25.1" height="0.91" fill="#dde6ef" rx="0.4" fill-opacity="0.55"/><rect x="855.75" y="496.03" width="25.1" height="1.17" fill="#54708f" rx="0.4" fill-opacity="0.45"/><rect x="855.04" y="490.93" width="1.78" height="4.42" rx="0.89" fill="#7891ad" stroke="#dde6ef" stroke-opacity="0.8" stroke-width="0.42"/><rect x="858.68" y="490.93" width="2.64" height="4.42" rx="1.32" fill="#7891ad" stroke="#dde6ef" stroke-opacity="0.8" stroke-width="0.42"/><rect x="863.8" y="490.93" width="3.14" height="4.42" rx="1.47" fill="#7891ad" stroke="#dde6ef" stroke-opacity="0.8" stroke-width="0.42"/><rect x="869.65" y="490.93" width="3.14" height="4.42" rx="1.47" fill="#7891ad" stroke="#dde6ef" stroke-opacity="0.8" stroke-width="0.42"/><rect x="875.28" y="490.93" width="2.64" height="4.42" rx="1.32" fill="#7891ad" stroke="#dde6ef" stroke-opacity="0.8" stroke-width="0.42"/><rect x="879.78" y="490.93" width="1.78" height="4.42" rx="0.89" fill="#7891ad" stroke="#dde6ef" stroke-opacity="0.8" stroke-width="0.42"/><path d="M859.77 496.9 L876.82 496.9 Q868.3 503.73 859.77 496.9 Z" fill="#6a84a2"/><ellipse cx="868.3" cy="498.59" rx="6.14" ry="1.1" fill="#f2eee6" fill-opacity="0.9"/><rect x="865.7" y="499.14" width="5.2" height="2.3" fill="url(#gGold)" rx="0.8"/><rect x="743" y="374" width="11.6" height="61.7" fill="url(#gTube)" rx="1.5"/><line x1="743.52" y1="374.5" x2="743.52" y2="404.85" stroke="#ffffff" stroke-width="1.04" stroke-opacity="0.7"/><line x1="754.08" y1="374.5" x2="754.08" y2="404.85" stroke="#ffffff" stroke-width="1.04" stroke-opacity="0.7"/><line x1="744.67" y1="375" x2="744.67" y2="401.76" stroke="#9aa4b5" stroke-width="0.52" stroke-opacity="0.4"/><line x1="752.93" y1="375" x2="752.93" y2="401.76" stroke="#9aa4b5" stroke-width="0.52" stroke-opacity="0.4"/><ellipse cx="748.8" cy="374.7" rx="5.7" ry="1.16" fill="#ffffff" fill-opacity="0.85"/><ellipse cx="748.8" cy="425.75" rx="5.57" ry="9.95" fill="url(#gGlow)"/><path d="M738.35 434.7 L756.85 434.7 L756.11 455 L739.09 455Z" fill="url(#gBlueL)"/><line x1="739.48" y1="435.5" x2="740.13" y2="454.4" stroke="#dde6ef" stroke-width="0.74" stroke-opacity="0.5"/><line x1="741.18" y1="435" x2="741.69" y2="454.8" stroke="#54708f" stroke-width="0.74" stroke-opacity="0.62"/><line x1="742.83" y1="435.5" x2="743.21" y2="454.4" stroke="#dde6ef" stroke-width="0.74" stroke-opacity="0.5"/><line x1="745.3" y1="435" x2="745.48" y2="454.8" stroke="#54708f" stroke-width="0.74" stroke-opacity="0.62"/><line x1="747.14" y1="435.5" x2="747.18" y2="454.4" stroke="#dde6ef" stroke-width="0.74" stroke-opacity="0.5"/><line x1="749.9" y1="435" x2="749.72" y2="454.8" stroke="#54708f" stroke-width="0.74" stroke-opacity="0.62"/><line x1="751.55" y1="435.5" x2="751.23" y2="454.4" stroke="#dde6ef" stroke-width="0.74" stroke-opacity="0.5"/><line x1="754.02" y1="435" x2="753.51" y2="454.8" stroke="#54708f" stroke-width="0.74" stroke-opacity="0.62"/><line x1="755.15" y1="435.5" x2="754.55" y2="454.4" stroke="#dde6ef" stroke-width="0.74" stroke-opacity="0.5"/><rect x="727.4" y="454.4" width="38.8" height="11.2" fill="url(#gBlueL)" rx="3"/><rect x="728.6" y="454.6" width="36.4" height="1.26" fill="#dde6ef" rx="0.4" fill-opacity="0.55"/><rect x="728.6" y="463.92" width="36.4" height="1.58" fill="#54708f" rx="0.4" fill-opacity="0.45"/><rect x="727.86" y="457.2" width="1.52" height="5.82" rx="0.76" fill="#7891ad" stroke="#dde6ef" stroke-opacity="0.8" stroke-width="0.56"/><rect x="730.88" y="457.2" width="2.11" height="5.82" rx="1.06" fill="#7891ad" stroke="#dde6ef" stroke-opacity="0.8" stroke-width="0.56"/><rect x="734.96" y="457.2" width="2.59" height="5.82" rx="1.3" fill="#7891ad" stroke="#dde6ef" stroke-opacity="0.8" stroke-width="0.56"/><rect x="739.87" y="457.2" width="2.91" height="5.82" rx="1.45" fill="#7891ad" stroke="#dde6ef" stroke-opacity="0.8" stroke-width="0.56"/><rect x="745.29" y="457.2" width="3.02" height="5.82" rx="1.51" fill="#7891ad" stroke="#dde6ef" stroke-opacity="0.8" stroke-width="0.56"/><rect x="750.82" y="457.2" width="2.91" height="5.82" rx="1.45" fill="#7891ad" stroke="#dde6ef" stroke-opacity="0.8" stroke-width="0.56"/><rect x="756.05" y="457.2" width="2.59" height="5.82" rx="1.3" fill="#7891ad" stroke="#dde6ef" stroke-opacity="0.8" stroke-width="0.56"/><rect x="760.61" y="457.2" width="2.11" height="5.82" rx="1.06" fill="#7891ad" stroke="#dde6ef" stroke-opacity="0.8" stroke-width="0.56"/><rect x="764.21" y="457.2" width="1.52" height="5.82" rx="0.76" fill="#7891ad" stroke="#dde6ef" stroke-opacity="0.8" stroke-width="0.56"/><path d="M734.77 465.2 L758.83 465.2 Q746.8 474.07 734.77 465.2 Z" fill="#6a84a2"/><ellipse cx="746.8" cy="467.29" rx="8.66" ry="1.45" fill="#f2eee6" fill-opacity="0.9"/><rect x="744.2" y="468.02" width="5.2" height="3.02" fill="url(#gGold)" rx="0.8"/><rect x="876.8" y="377.6" width="11.6" height="60.4" fill="url(#gTube)" rx="1.5"/><line x1="877.32" y1="378.1" x2="877.32" y2="407.8" stroke="#ffffff" stroke-width="1.04" stroke-opacity="0.7"/><line x1="887.88" y1="378.1" x2="887.88" y2="407.8" stroke="#ffffff" stroke-width="1.04" stroke-opacity="0.7"/><line x1="878.47" y1="378.6" x2="878.47" y2="404.78" stroke="#9aa4b5" stroke-width="0.52" stroke-opacity="0.4"/><line x1="886.73" y1="378.6" x2="886.73" y2="404.78" stroke="#9aa4b5" stroke-width="0.52" stroke-opacity="0.4"/><ellipse cx="882.6" cy="378.3" rx="5.7" ry="1.16" fill="#ffffff" fill-opacity="0.85"/><ellipse cx="882.6" cy="428.26" rx="5.57" ry="9.74" fill="url(#gGlow)"/><path d="M874.1 437 L892.9 437 L892.15 456.8 L874.85 456.8Z" fill="url(#gBlueL)"/><line x1="875.25" y1="437.8" x2="875.91" y2="456.2" stroke="#dde6ef" stroke-width="0.75" stroke-opacity="0.5"/><line x1="876.98" y1="437.3" x2="877.5" y2="456.6" stroke="#54708f" stroke-width="0.75" stroke-opacity="0.62"/><line x1="878.65" y1="437.8" x2="879.04" y2="456.2" stroke="#dde6ef" stroke-width="0.75" stroke-opacity="0.5"/><line x1="881.16" y1="437.3" x2="881.35" y2="456.6" stroke="#54708f" stroke-width="0.75" stroke-opacity="0.62"/><line x1="883.03" y1="437.8" x2="883.07" y2="456.2" stroke="#dde6ef" stroke-width="0.75" stroke-opacity="0.5"/><line x1="885.84" y1="437.3" x2="885.65" y2="456.6" stroke="#54708f" stroke-width="0.75" stroke-opacity="0.62"/><line x1="887.51" y1="437.8" x2="887.19" y2="456.2" stroke="#dde6ef" stroke-width="0.75" stroke-opacity="0.5"/><line x1="890.02" y1="437.3" x2="889.5" y2="456.6" stroke="#54708f" stroke-width="0.75" stroke-opacity="0.62"/><line x1="891.17" y1="437.8" x2="890.56" y2="456.2" stroke="#dde6ef" stroke-width="0.75" stroke-opacity="0.5"/><rect x="865.25" y="456.2" width="37.5" height="10.8" fill="url(#gBlueL)" rx="3"/><rect x="866.45" y="456.4" width="35.1" height="1.2" fill="#dde6ef" rx="0.4" fill-opacity="0.55"/><rect x="866.45" y="465.38" width="35.1" height="1.52" fill="#54708f" rx="0.4" fill-opacity="0.45"/><rect x="865.75" y="458.9" width="1.7" height="5.62" rx="0.85" fill="#7891ad" stroke="#dde6ef" stroke-opacity="0.8" stroke-width="0.54"/><rect x="869.14" y="458.9" width="2.41" height="5.62" rx="1.2" fill="#7891ad" stroke="#dde6ef" stroke-opacity="0.8" stroke-width="0.54"/><rect x="873.8" y="458.9" width="2.95" height="5.62" rx="1.47" fill="#7891ad" stroke="#dde6ef" stroke-opacity="0.8" stroke-width="0.54"/><rect x="879.38" y="458.9" width="3.24" height="5.62" rx="1.62" fill="#7891ad" stroke="#dde6ef" stroke-opacity="0.8" stroke-width="0.54"/><rect x="885.38" y="458.9" width="3.24" height="5.62" rx="1.62" fill="#7891ad" stroke="#dde6ef" stroke-opacity="0.8" stroke-width="0.54"/><rect x="891.25" y="458.9" width="2.95" height="5.62" rx="1.47" fill="#7891ad" stroke="#dde6ef" stroke-opacity="0.8" stroke-width="0.54"/><rect x="896.45" y="458.9" width="2.41" height="5.62" rx="1.2" fill="#7891ad" stroke="#dde6ef" stroke-opacity="0.8" stroke-width="0.54"/><rect x="900.55" y="458.9" width="1.7" height="5.62" rx="0.85" fill="#7891ad" stroke="#dde6ef" stroke-opacity="0.8" stroke-width="0.54"/><path d="M872.38 466.6 L895.62 466.6 Q884 475.16 872.38 466.6 Z" fill="#6a84a2"/><ellipse cx="884" cy="468.63" rx="8.37" ry="1.4" fill="#f2eee6" fill-opacity="0.9"/><rect x="881.4" y="469.33" width="5.2" height="2.92" fill="url(#gGold)" rx="0.8"/><rect x="680.65" y="401.2" width="11.3" height="56" fill="url(#gTube)" rx="1.5"/><line x1="681.16" y1="401.7" x2="681.16" y2="429.2" stroke="#ffffff" stroke-width="1.02" stroke-opacity="0.7"/><line x1="691.44" y1="401.7" x2="691.44" y2="429.2" stroke="#ffffff" stroke-width="1.02" stroke-opacity="0.7"/><line x1="682.28" y1="402.2" x2="682.28" y2="426.4" stroke="#9aa4b5" stroke-width="0.51" stroke-opacity="0.4"/><line x1="690.32" y1="402.2" x2="690.32" y2="426.4" stroke="#9aa4b5" stroke-width="0.51" stroke-opacity="0.4"/><ellipse cx="686.3" cy="401.9" rx="5.55" ry="1.13" fill="#ffffff" fill-opacity="0.85"/><ellipse cx="686.3" cy="448.17" rx="5.42" ry="9.03" fill="url(#gGlow)"/><path d="M677 456.2 L693.8 456.2 L693.13 474.6 L677.67 474.6Z" fill="url(#gBlueL)"/><line x1="678.03" y1="457" x2="678.62" y2="474" stroke="#dde6ef" stroke-width="0.67" stroke-opacity="0.5"/><line x1="679.57" y1="456.5" x2="680.04" y2="474.4" stroke="#54708f" stroke-width="0.67" stroke-opacity="0.62"/><line x1="681.07" y1="457" x2="681.41" y2="474" stroke="#dde6ef" stroke-width="0.67" stroke-opacity="0.5"/><line x1="683.31" y1="456.5" x2="683.48" y2="474.4" stroke="#54708f" stroke-width="0.67" stroke-opacity="0.62"/><line x1="684.98" y1="457" x2="685.02" y2="474" stroke="#dde6ef" stroke-width="0.67" stroke-opacity="0.5"/><line x1="687.49" y1="456.5" x2="687.32" y2="474.4" stroke="#54708f" stroke-width="0.67" stroke-opacity="0.62"/><line x1="688.99" y1="457" x2="688.7" y2="474" stroke="#dde6ef" stroke-width="0.67" stroke-opacity="0.5"/><line x1="691.23" y1="456.5" x2="690.76" y2="474.4" stroke="#54708f" stroke-width="0.67" stroke-opacity="0.62"/><line x1="692.26" y1="457" x2="691.71" y2="474" stroke="#dde6ef" stroke-width="0.67" stroke-opacity="0.5"/><rect x="668" y="474" width="36" height="9.4" fill="url(#gBlueL)" rx="2.82"/><rect x="669.2" y="474.2" width="33.6" height="1.02" fill="#dde6ef" rx="0.4" fill-opacity="0.55"/><rect x="669.2" y="481.99" width="33.6" height="1.31" fill="#54708f" rx="0.4" fill-opacity="0.45"/><rect x="668.48" y="476.35" width="1.63" height="4.89" rx="0.81" fill="#7891ad" stroke="#dde6ef" stroke-opacity="0.8" stroke-width="0.47"/><rect x="671.74" y="476.35" width="2.31" height="4.89" rx="1.16" fill="#7891ad" stroke="#dde6ef" stroke-opacity="0.8" stroke-width="0.47"/><rect x="676.21" y="476.35" width="2.83" height="4.89" rx="1.42" fill="#7891ad" stroke="#dde6ef" stroke-opacity="0.8" stroke-width="0.47"/><rect x="681.56" y="476.35" width="3.11" height="4.89" rx="1.56" fill="#7891ad" stroke="#dde6ef" stroke-opacity="0.8" stroke-width="0.47"/><rect x="687.32" y="476.35" width="3.11" height="4.89" rx="1.56" fill="#7891ad" stroke="#dde6ef" stroke-opacity="0.8" stroke-width="0.47"/><rect x="692.96" y="476.35" width="2.83" height="4.89" rx="1.42" fill="#7891ad" stroke="#dde6ef" stroke-opacity="0.8" stroke-width="0.47"/><rect x="697.95" y="476.35" width="2.31" height="4.89" rx="1.16" fill="#7891ad" stroke="#dde6ef" stroke-opacity="0.8" stroke-width="0.47"/><rect x="701.89" y="476.35" width="1.63" height="4.89" rx="0.81" fill="#7891ad" stroke="#dde6ef" stroke-opacity="0.8" stroke-width="0.47"/><path d="M674.84 483 L697.16 483 Q686 490.51 674.84 483 Z" fill="#6a84a2"/><ellipse cx="686" cy="484.82" rx="8.04" ry="1.22" fill="#f2eee6" fill-opacity="0.9"/><rect x="683.4" y="485.43" width="5.2" height="2.54" fill="url(#gGold)" rx="0.8"/><rect x="931.5" y="402.6" width="9" height="56.4" fill="url(#gTube)" rx="1.5"/><line x1="931.9" y1="403.1" x2="931.9" y2="430.8" stroke="#ffffff" stroke-width="0.81" stroke-opacity="0.7"/><line x1="940.1" y1="403.1" x2="940.1" y2="430.8" stroke="#ffffff" stroke-width="0.81" stroke-opacity="0.7"/><line x1="932.8" y1="403.6" x2="932.8" y2="427.98" stroke="#9aa4b5" stroke-width="0.4" stroke-opacity="0.4"/><line x1="939.2" y1="403.6" x2="939.2" y2="427.98" stroke="#9aa4b5" stroke-width="0.4" stroke-opacity="0.4"/><ellipse cx="936" cy="403.3" rx="4.4" ry="0.9" fill="#ffffff" fill-opacity="0.85"/><ellipse cx="936" cy="449.91" rx="4.32" ry="9.09" fill="url(#gGlow)"/><path d="M927.2 458 L944.2 458 L943.52 476 L927.88 476Z" fill="url(#gBlueL)"/><line x1="928.24" y1="458.8" x2="928.84" y2="475.4" stroke="#dde6ef" stroke-width="0.68" stroke-opacity="0.5"/><line x1="929.8" y1="458.3" x2="930.27" y2="475.8" stroke="#54708f" stroke-width="0.68" stroke-opacity="0.62"/><line x1="931.31" y1="458.8" x2="931.66" y2="475.4" stroke="#dde6ef" stroke-width="0.68" stroke-opacity="0.5"/><line x1="933.58" y1="458.3" x2="933.75" y2="475.8" stroke="#54708f" stroke-width="0.68" stroke-opacity="0.62"/><line x1="935.28" y1="458.8" x2="935.31" y2="475.4" stroke="#dde6ef" stroke-width="0.68" stroke-opacity="0.5"/><line x1="937.82" y1="458.3" x2="937.65" y2="475.8" stroke="#54708f" stroke-width="0.68" stroke-opacity="0.62"/><line x1="939.33" y1="458.8" x2="939.04" y2="475.4" stroke="#dde6ef" stroke-width="0.68" stroke-opacity="0.5"/><line x1="941.6" y1="458.3" x2="941.13" y2="475.8" stroke="#54708f" stroke-width="0.68" stroke-opacity="0.62"/><line x1="942.64" y1="458.8" x2="942.08" y2="475.4" stroke="#dde6ef" stroke-width="0.68" stroke-opacity="0.5"/><rect x="919.2" y="475.4" width="34.4" height="9.3" fill="url(#gBlueL)" rx="2.79"/><rect x="920.4" y="475.6" width="32" height="1.01" fill="#dde6ef" rx="0.4" fill-opacity="0.55"/><rect x="920.4" y="483.31" width="32" height="1.29" fill="#54708f" rx="0.4" fill-opacity="0.45"/><rect x="919.66" y="477.72" width="1.56" height="4.84" rx="0.78" fill="#7891ad" stroke="#dde6ef" stroke-opacity="0.8" stroke-width="0.47"/><rect x="922.77" y="477.72" width="2.21" height="4.84" rx="1.1" fill="#7891ad" stroke="#dde6ef" stroke-opacity="0.8" stroke-width="0.47"/><rect x="927.04" y="477.72" width="2.71" height="4.84" rx="1.35" fill="#7891ad" stroke="#dde6ef" stroke-opacity="0.8" stroke-width="0.47"/><rect x="932.16" y="477.72" width="2.98" height="4.84" rx="1.49" fill="#7891ad" stroke="#dde6ef" stroke-opacity="0.8" stroke-width="0.47"/><rect x="937.67" y="477.72" width="2.98" height="4.84" rx="1.49" fill="#7891ad" stroke="#dde6ef" stroke-opacity="0.8" stroke-width="0.47"/><rect x="943.05" y="477.72" width="2.71" height="4.84" rx="1.35" fill="#7891ad" stroke="#dde6ef" stroke-opacity="0.8" stroke-width="0.47"/><rect x="947.82" y="477.72" width="2.21" height="4.84" rx="1.1" fill="#7891ad" stroke="#dde6ef" stroke-opacity="0.8" stroke-width="0.47"/><rect x="951.58" y="477.72" width="1.56" height="4.84" rx="0.78" fill="#7891ad" stroke="#dde6ef" stroke-opacity="0.8" stroke-width="0.47"/><path d="M925.74 484.3 L947.06 484.3 Q936.4 491.73 925.74 484.3 Z" fill="#6a84a2"/><ellipse cx="936.4" cy="486.11" rx="7.68" ry="1.21" fill="#f2eee6" fill-opacity="0.9"/><rect x="933.8" y="486.71" width="5.2" height="2.51" fill="url(#gGold)" rx="0.8"/><path d="M803.55 396 L823.05 396 L823.05 472.5 L803.55 472.5Z" fill="url(#gBlueK)"/><line x1="804.74" y1="396.8" x2="804.74" y2="471.9" stroke="#c8d5e2" stroke-width="0.78" stroke-opacity="0.5"/><line x1="806.53" y1="396.3" x2="806.53" y2="472.3" stroke="#465e78" stroke-width="0.78" stroke-opacity="0.62"/><line x1="808.27" y1="396.8" x2="808.27" y2="471.9" stroke="#c8d5e2" stroke-width="0.78" stroke-opacity="0.5"/><line x1="810.87" y1="396.3" x2="810.87" y2="472.3" stroke="#465e78" stroke-width="0.78" stroke-opacity="0.62"/><line x1="812.81" y1="396.8" x2="812.81" y2="471.9" stroke="#c8d5e2" stroke-width="0.78" stroke-opacity="0.5"/><line x1="815.73" y1="396.3" x2="815.73" y2="472.3" stroke="#465e78" stroke-width="0.78" stroke-opacity="0.62"/><line x1="817.46" y1="396.8" x2="817.46" y2="471.9" stroke="#c8d5e2" stroke-width="0.78" stroke-opacity="0.5"/><line x1="820.07" y1="396.3" x2="820.07" y2="472.3" stroke="#465e78" stroke-width="0.78" stroke-opacity="0.62"/><line x1="821.26" y1="396.8" x2="821.26" y2="471.9" stroke="#c8d5e2" stroke-width="0.78" stroke-opacity="0.5"/><path d="M800.3 472 L826.3 472 L826.3 551 L800.3 551Z" fill="url(#gBlueK)"/><line x1="801.57" y1="472.8" x2="801.57" y2="550.4" stroke="#c8d5e2" stroke-width="0.87" stroke-opacity="0.5"/><line x1="803.47" y1="472.3" x2="803.47" y2="550.8" stroke="#465e78" stroke-width="0.87" stroke-opacity="0.62"/><line x1="805.28" y1="472.8" x2="805.28" y2="550.4" stroke="#c8d5e2" stroke-width="0.87" stroke-opacity="0.5"/><line x1="807.99" y1="472.3" x2="807.99" y2="550.8" stroke="#465e78" stroke-width="0.87" stroke-opacity="0.62"/><line x1="810.12" y1="472.8" x2="810.12" y2="550.4" stroke="#c8d5e2" stroke-width="0.87" stroke-opacity="0.5"/><line x1="813.3" y1="472.3" x2="813.3" y2="550.8" stroke="#465e78" stroke-width="0.87" stroke-opacity="0.62"/><line x1="815.42" y1="472.8" x2="815.42" y2="550.4" stroke="#c8d5e2" stroke-width="0.87" stroke-opacity="0.5"/><line x1="818.61" y1="472.3" x2="818.61" y2="550.8" stroke="#465e78" stroke-width="0.87" stroke-opacity="0.62"/><line x1="820.42" y1="472.8" x2="820.42" y2="550.4" stroke="#c8d5e2" stroke-width="0.87" stroke-opacity="0.5"/><line x1="823.13" y1="472.3" x2="823.13" y2="550.8" stroke="#465e78" stroke-width="0.87" stroke-opacity="0.62"/><line x1="824.4" y1="472.8" x2="824.4" y2="550.4" stroke="#c8d5e2" stroke-width="0.87" stroke-opacity="0.5"/><ellipse cx="784.28" cy="550.6" rx="1.28" ry="1.08" fill="#7a93ad"/><ellipse cx="787.15" cy="550.6" rx="1.59" ry="1.34" fill="#7a93ad"/><ellipse cx="790.63" cy="550.6" rx="1.88" ry="1.58" fill="#7a93ad"/><ellipse cx="794.65" cy="550.6" rx="2.14" ry="1.79" fill="#7a93ad"/><ellipse cx="799.12" cy="550.6" rx="2.34" ry="1.96" fill="#7a93ad"/><ellipse cx="803.93" cy="550.6" rx="2.48" ry="2.08" fill="#7a93ad"/><ellipse cx="808.95" cy="550.6" rx="2.55" ry="2.14" fill="#7a93ad"/><ellipse cx="814.05" cy="550.6" rx="2.55" ry="2.14" fill="#7a93ad"/><ellipse cx="819.07" cy="550.6" rx="2.48" ry="2.08" fill="#7a93ad"/><ellipse cx="823.88" cy="550.6" rx="2.34" ry="1.96" fill="#7a93ad"/><ellipse cx="828.35" cy="550.6" rx="2.14" ry="1.79" fill="#7a93ad"/><ellipse cx="832.37" cy="550.6" rx="1.88" ry="1.58" fill="#7a93ad"/><ellipse cx="835.85" cy="550.6" rx="1.59" ry="1.34" fill="#7a93ad"/><ellipse cx="838.72" cy="550.6" rx="1.28" ry="1.08" fill="#7a93ad"/><path d="M783 550.3 L840 550.3 L841 566.9 L782 566.9Z" fill="url(#gBlueK)"/><line x1="784.02" y1="551.1" x2="783.06" y2="566.3" stroke="#c8d5e2" stroke-width="0.81" stroke-opacity="0.5"/><line x1="785.56" y1="550.6" x2="784.65" y2="566.7" stroke="#465e78" stroke-width="0.81" stroke-opacity="0.62"/><line x1="786.84" y1="551.1" x2="785.97" y2="566.3" stroke="#c8d5e2" stroke-width="0.81" stroke-opacity="0.5"/><line x1="788.75" y1="550.6" x2="787.95" y2="566.7" stroke="#465e78" stroke-width="0.81" stroke-opacity="0.62"/><line x1="790.26" y1="551.1" x2="789.51" y2="566.3" stroke="#c8d5e2" stroke-width="0.81" stroke-opacity="0.5"/><line x1="792.52" y1="550.6" x2="791.85" y2="566.7" stroke="#465e78" stroke-width="0.81" stroke-opacity="0.62"/><line x1="794.22" y1="551.1" x2="793.62" y2="566.3" stroke="#c8d5e2" stroke-width="0.81" stroke-opacity="0.5"/><line x1="796.79" y1="550.6" x2="796.27" y2="566.7" stroke="#465e78" stroke-width="0.81" stroke-opacity="0.62"/><line x1="798.65" y1="551.1" x2="798.2" y2="566.3" stroke="#c8d5e2" stroke-width="0.81" stroke-opacity="0.5"/><line x1="801.46" y1="550.6" x2="801.1" y2="566.7" stroke="#465e78" stroke-width="0.81" stroke-opacity="0.62"/><line x1="803.44" y1="551.1" x2="803.15" y2="566.3" stroke="#c8d5e2" stroke-width="0.81" stroke-opacity="0.5"/><line x1="806.41" y1="550.6" x2="806.23" y2="566.7" stroke="#465e78" stroke-width="0.81" stroke-opacity="0.62"/><line x1="808.44" y1="551.1" x2="808.34" y2="566.3" stroke="#c8d5e2" stroke-width="0.81" stroke-opacity="0.5"/><line x1="811.5" y1="550.6" x2="811.5" y2="566.7" stroke="#465e78" stroke-width="0.81" stroke-opacity="0.62"/><line x1="813.54" y1="551.1" x2="813.61" y2="566.3" stroke="#c8d5e2" stroke-width="0.81" stroke-opacity="0.5"/><line x1="816.59" y1="550.6" x2="816.77" y2="566.7" stroke="#465e78" stroke-width="0.81" stroke-opacity="0.62"/><line x1="818.57" y1="551.1" x2="818.82" y2="566.3" stroke="#c8d5e2" stroke-width="0.81" stroke-opacity="0.5"/><line x1="821.54" y1="550.6" x2="821.9" y2="566.7" stroke="#465e78" stroke-width="0.81" stroke-opacity="0.62"/><line x1="823.41" y1="551.1" x2="823.83" y2="566.3" stroke="#c8d5e2" stroke-width="0.81" stroke-opacity="0.5"/><line x1="826.21" y1="550.6" x2="826.73" y2="566.7" stroke="#465e78" stroke-width="0.81" stroke-opacity="0.62"/><line x1="827.92" y1="551.1" x2="828.5" y2="566.3" stroke="#c8d5e2" stroke-width="0.81" stroke-opacity="0.5"/><line x1="830.48" y1="550.6" x2="831.15" y2="566.7" stroke="#465e78" stroke-width="0.81" stroke-opacity="0.62"/><line x1="831.99" y1="551.1" x2="832.71" y2="566.3" stroke="#c8d5e2" stroke-width="0.81" stroke-opacity="0.5"/><line x1="834.25" y1="550.6" x2="835.05" y2="566.7" stroke="#465e78" stroke-width="0.81" stroke-opacity="0.62"/><line x1="835.53" y1="551.1" x2="836.37" y2="566.3" stroke="#c8d5e2" stroke-width="0.81" stroke-opacity="0.5"/><line x1="837.44" y1="550.6" x2="838.35" y2="566.7" stroke="#465e78" stroke-width="0.81" stroke-opacity="0.62"/><line x1="838.46" y1="551.1" x2="839.41" y2="566.3" stroke="#c8d5e2" stroke-width="0.81" stroke-opacity="0.5"/><rect x="782" y="565.2" width="59" height="5.2" fill="#7a93ad" rx="1.8"/><rect x="783.5" y="568.9" width="56" height="1.4" fill="#ece7dc" rx="0.7" fill-opacity="0.85"/><path d="M803.2 570.4 L819.8 570.4 L818.4 585.2 L804.6 585.2Z" fill="url(#gBlueK)"/><line x1="804.55" y1="571.2" x2="805.72" y2="584.6" stroke="#c8d5e2" stroke-width="0.83" stroke-opacity="0.5"/><line x1="806.58" y1="570.7" x2="807.41" y2="585" stroke="#465e78" stroke-width="0.83" stroke-opacity="0.62"/><line x1="808.55" y1="571.2" x2="809.04" y2="584.6" stroke="#c8d5e2" stroke-width="0.83" stroke-opacity="0.5"/><line x1="811.5" y1="570.7" x2="811.5" y2="585" stroke="#465e78" stroke-width="0.83" stroke-opacity="0.62"/><line x1="813.47" y1="571.2" x2="813.14" y2="584.6" stroke="#c8d5e2" stroke-width="0.83" stroke-opacity="0.5"/><line x1="816.42" y1="570.7" x2="815.59" y2="585" stroke="#465e78" stroke-width="0.83" stroke-opacity="0.62"/><line x1="817.77" y1="571.2" x2="816.72" y2="584.6" stroke="#c8d5e2" stroke-width="0.83" stroke-opacity="0.5"/><rect x="809.9" y="584.7" width="3.2" height="5.8" fill="url(#gGold)"/><ellipse cx="811.5" cy="590.5" rx="3.7" ry="3.7" fill="#a98a62"/><ellipse cx="810.5" cy="589.4" rx="1.5" ry="1.5" fill="#fbf1dd"/></g>

<g id="chandelier8"><ellipse cx="535.5" cy="616" rx="41.34" ry="12.5" fill="url(#gShadow)"/><rect x="507" y="612" width="53" height="14" fill="url(#gGoldTop)" rx="1.8"/><path d="M501.75 625.5 A31.75 6.5 0 0 1 565.25 625.5 L565.25 648 A31.75 13 0 0 1 501.75 648Z" fill="url(#gBlueC)"/><line x1="502.6" y1="624.81" x2="502.6" y2="649.78" stroke="#c9d9e9" stroke-width="0.7" stroke-opacity="0.55"/><line x1="503.86" y1="623.57" x2="503.86" y2="652.06" stroke="#344d6c" stroke-width="0.8" stroke-opacity="0.6"/><line x1="505.08" y1="623.4" x2="505.08" y2="652.59" stroke="#c9d9e9" stroke-width="0.7" stroke-opacity="0.55"/><line x1="506.78" y1="622.39" x2="506.78" y2="654.42" stroke="#344d6c" stroke-width="0.8" stroke-opacity="0.6"/><line x1="508.35" y1="622.33" x2="508.35" y2="654.74" stroke="#c9d9e9" stroke-width="0.7" stroke-opacity="0.55"/><line x1="510.47" y1="621.43" x2="510.47" y2="656.35" stroke="#344d6c" stroke-width="0.8" stroke-opacity="0.6"/><line x1="512.35" y1="621.45" x2="512.35" y2="656.5" stroke="#c9d9e9" stroke-width="0.7" stroke-opacity="0.55"/><line x1="514.83" y1="620.64" x2="514.83" y2="657.91" stroke="#344d6c" stroke-width="0.8" stroke-opacity="0.6"/><line x1="516.98" y1="620.75" x2="516.98" y2="657.9" stroke="#c9d9e9" stroke-width="0.7" stroke-opacity="0.55"/><line x1="519.74" y1="620.04" x2="519.74" y2="659.12" stroke="#344d6c" stroke-width="0.8" stroke-opacity="0.6"/><line x1="522.1" y1="620.23" x2="522.1" y2="658.93" stroke="#c9d9e9" stroke-width="0.7" stroke-opacity="0.55"/><line x1="525.07" y1="619.63" x2="525.07" y2="659.93" stroke="#344d6c" stroke-width="0.8" stroke-opacity="0.6"/><line x1="527.57" y1="619.91" x2="527.57" y2="659.57" stroke="#c9d9e9" stroke-width="0.7" stroke-opacity="0.55"/><line x1="530.66" y1="619.43" x2="530.66" y2="660.35" stroke="#344d6c" stroke-width="0.8" stroke-opacity="0.6"/><line x1="533.22" y1="619.8" x2="533.22" y2="659.8" stroke="#c9d9e9" stroke-width="0.7" stroke-opacity="0.55"/><line x1="536.34" y1="619.43" x2="536.34" y2="660.35" stroke="#344d6c" stroke-width="0.8" stroke-opacity="0.6"/><line x1="538.87" y1="619.89" x2="538.87" y2="659.61" stroke="#c9d9e9" stroke-width="0.7" stroke-opacity="0.55"/><line x1="541.93" y1="619.63" x2="541.93" y2="659.93" stroke="#344d6c" stroke-width="0.8" stroke-opacity="0.6"/><line x1="544.37" y1="620.19" x2="544.37" y2="659.01" stroke="#c9d9e9" stroke-width="0.7" stroke-opacity="0.55"/><line x1="547.26" y1="620.04" x2="547.26" y2="659.12" stroke="#344d6c" stroke-width="0.8" stroke-opacity="0.6"/><line x1="549.53" y1="620.69" x2="549.53" y2="658.02" stroke="#c9d9e9" stroke-width="0.7" stroke-opacity="0.55"/><line x1="552.17" y1="620.64" x2="552.17" y2="657.91" stroke="#344d6c" stroke-width="0.8" stroke-opacity="0.6"/><line x1="554.21" y1="621.37" x2="554.21" y2="656.65" stroke="#c9d9e9" stroke-width="0.7" stroke-opacity="0.55"/><line x1="556.53" y1="621.43" x2="556.53" y2="656.35" stroke="#344d6c" stroke-width="0.8" stroke-opacity="0.6"/><line x1="558.28" y1="622.24" x2="558.28" y2="654.93" stroke="#c9d9e9" stroke-width="0.7" stroke-opacity="0.55"/><line x1="560.22" y1="622.39" x2="560.22" y2="654.42" stroke="#344d6c" stroke-width="0.8" stroke-opacity="0.6"/><line x1="561.63" y1="623.29" x2="561.63" y2="652.83" stroke="#c9d9e9" stroke-width="0.7" stroke-opacity="0.55"/><line x1="563.14" y1="623.57" x2="563.14" y2="652.06" stroke="#344d6c" stroke-width="0.8" stroke-opacity="0.6"/><line x1="564.19" y1="624.64" x2="564.19" y2="650.13" stroke="#c9d9e9" stroke-width="0.7" stroke-opacity="0.55"/><ellipse cx="533.5" cy="648" rx="30.95" ry="12.2" fill="url(#gGoldUnder)"/><path d="M502.55 648 A30.95 12.2 0 0 1 564.45 648 A30.95 11.35 0 0 0 502.55 648Z" fill="#43618a" fill-opacity="0.9"/><path d="M516.04 639.94 A17.46 3.9 0 0 1 550.96 639.94 A17.46 2.86 0 0 0 516.04 639.94Z" fill="#e9e4d8" fill-opacity="0.0"/><rect x="530.7" y="637" width="5.2" height="250" fill="url(#gGold)"/><rect x="529.5" y="644.5" width="7.6" height="7" fill="url(#gGold)" rx="1"/><path d="M408 979 V1018 Q408 1029 419 1029 L512 1023" fill="none" stroke="#4a3829" stroke-width="4" stroke-linecap="round" stroke-linejoin="round"/><path d="M408 979 V1018 Q408 1029 419 1029 L512 1023" fill="none" stroke="#a98e72" stroke-width="2.24" stroke-linecap="round" stroke-linejoin="round"/><path d="M408 979 V1018 Q408 1029 419 1029 L512 1023" fill="none" stroke="#f6eee2" stroke-width="0.96" stroke-linecap="round" stroke-linejoin="round"/><path d="M656.5 983 V1022 Q656.5 1033 645.5 1032.5 L556 1025" fill="none" stroke="#4a3829" stroke-width="4" stroke-linecap="round" stroke-linejoin="round"/><path d="M656.5 983 V1022 Q656.5 1033 645.5 1032.5 L556 1025" fill="none" stroke="#a98e72" stroke-width="2.24" stroke-linecap="round" stroke-linejoin="round"/><path d="M656.5 983 V1022 Q656.5 1033 645.5 1032.5 L556 1025" fill="none" stroke="#f6eee2" stroke-width="0.96" stroke-linecap="round" stroke-linejoin="round"/><path d="M463.2 959 V1007 Q463.2 1018 474 1018.6 L521 1017.4" fill="none" stroke="#4a3829" stroke-width="4" stroke-linecap="round" stroke-linejoin="round"/><path d="M463.2 959 V1007 Q463.2 1018 474 1018.6 L521 1017.4" fill="none" stroke="#a98e72" stroke-width="2.24" stroke-linecap="round" stroke-linejoin="round"/><path d="M463.2 959 V1007 Q463.2 1018 474 1018.6 L521 1017.4" fill="none" stroke="#f6eee2" stroke-width="0.96" stroke-linecap="round" stroke-linejoin="round"/><path d="M595.7 959 V1006 Q595.7 1017 585 1018.2 L546 1017.4" fill="none" stroke="#4a3829" stroke-width="4" stroke-linecap="round" stroke-linejoin="round"/><path d="M595.7 959 V1006 Q595.7 1017 585 1018.2 L546 1017.4" fill="none" stroke="#a98e72" stroke-width="2.24" stroke-linecap="round" stroke-linejoin="round"/><path d="M595.7 959 V1006 Q595.7 1017 585 1018.2 L546 1017.4" fill="none" stroke="#f6eee2" stroke-width="0.96" stroke-linecap="round" stroke-linejoin="round"/><path d="M481 989 V1031 Q481 1037.5 486 1035.6 L515 1024.2" fill="none" stroke="#4a3829" stroke-width="4" stroke-linecap="round" stroke-linejoin="round"/><path d="M481 989 V1031 Q481 1037.5 486 1035.6 L515 1024.2" fill="none" stroke="#a98e72" stroke-width="2.24" stroke-linecap="round" stroke-linejoin="round"/><path d="M481 989 V1031 Q481 1037.5 486 1035.6 L515 1024.2" fill="none" stroke="#f6eee2" stroke-width="0.96" stroke-linecap="round" stroke-linejoin="round"/><path d="M582 988 V1030 Q582 1036.5 577 1034.6 L548.5 1023.2" fill="none" stroke="#4a3829" stroke-width="4" stroke-linecap="round" stroke-linejoin="round"/><path d="M582 988 V1030 Q582 1036.5 577 1034.6 L548.5 1023.2" fill="none" stroke="#a98e72" stroke-width="2.24" stroke-linecap="round" stroke-linejoin="round"/><path d="M582 988 V1030 Q582 1036.5 577 1034.6 L548.5 1023.2" fill="none" stroke="#f6eee2" stroke-width="0.96" stroke-linecap="round" stroke-linejoin="round"/><path d="M396.3 969 V1009 Q396.3 1021.5 409 1021.9 L520 1019.2" fill="none" stroke="#4a3829" stroke-width="4" stroke-linecap="round" stroke-linejoin="round"/><path d="M396.3 969 V1009 Q396.3 1021.5 409 1021.9 L520 1019.2" fill="none" stroke="#a98e72" stroke-width="2.24" stroke-linecap="round" stroke-linejoin="round"/><path d="M396.3 969 V1009 Q396.3 1021.5 409 1021.9 L520 1019.2" fill="none" stroke="#f6eee2" stroke-width="0.96" stroke-linecap="round" stroke-linejoin="round"/><path d="M668.9 970 V1011 Q668.9 1023.8 656 1024.3 L546 1019.8" fill="none" stroke="#4a3829" stroke-width="4" stroke-linecap="round" stroke-linejoin="round"/><path d="M668.9 970 V1011 Q668.9 1023.8 656 1024.3 L546 1019.8" fill="none" stroke="#a98e72" stroke-width="2.24" stroke-linecap="round" stroke-linejoin="round"/><path d="M668.9 970 V1011 Q668.9 1023.8 656 1024.3 L546 1019.8" fill="none" stroke="#f6eee2" stroke-width="0.96" stroke-linecap="round" stroke-linejoin="round"/><path d="M510.4 1025 V1039" fill="none" stroke="#4a3829" stroke-width="2.8" stroke-linecap="round" stroke-linejoin="round"/><path d="M510.4 1025 V1039" fill="none" stroke="#a98e72" stroke-width="1.57" stroke-linecap="round" stroke-linejoin="round"/><path d="M510.4 1025 V1039" fill="none" stroke="#f6eee2" stroke-width="0.7" stroke-linecap="round" stroke-linejoin="round"/><path d="M523.4 1025 V1039" fill="none" stroke="#4a3829" stroke-width="2.8" stroke-linecap="round" stroke-linejoin="round"/><path d="M523.4 1025 V1039" fill="none" stroke="#a98e72" stroke-width="1.57" stroke-linecap="round" stroke-linejoin="round"/><path d="M523.4 1025 V1039" fill="none" stroke="#f6eee2" stroke-width="0.7" stroke-linecap="round" stroke-linejoin="round"/><path d="M541.8 1025 V1039" fill="none" stroke="#4a3829" stroke-width="2.8" stroke-linecap="round" stroke-linejoin="round"/><path d="M541.8 1025 V1039" fill="none" stroke="#a98e72" stroke-width="1.57" stroke-linecap="round" stroke-linejoin="round"/><path d="M541.8 1025 V1039" fill="none" stroke="#f6eee2" stroke-width="0.7" stroke-linecap="round" stroke-linejoin="round"/><path d="M554.8 1025 V1039" fill="none" stroke="#4a3829" stroke-width="2.8" stroke-linecap="round" stroke-linejoin="round"/><path d="M554.8 1025 V1039" fill="none" stroke="#a98e72" stroke-width="1.57" stroke-linecap="round" stroke-linejoin="round"/><path d="M554.8 1025 V1039" fill="none" stroke="#f6eee2" stroke-width="0.7" stroke-linecap="round" stroke-linejoin="round"/><rect x="404" y="901.25" width="8.8" height="53.05" fill="url(#gTube)" rx="1.5"/><line x1="404.4" y1="901.75" x2="404.4" y2="927.77" stroke="#ffffff" stroke-width="0.79" stroke-opacity="0.7"/><line x1="412.4" y1="901.75" x2="412.4" y2="927.77" stroke="#ffffff" stroke-width="0.79" stroke-opacity="0.7"/><line x1="405.27" y1="902.25" x2="405.27" y2="925.12" stroke="#9aa4b5" stroke-width="0.4" stroke-opacity="0.4"/><line x1="411.53" y1="902.25" x2="411.53" y2="925.12" stroke="#9aa4b5" stroke-width="0.4" stroke-opacity="0.4"/><ellipse cx="408.4" cy="901.95" rx="4.3" ry="0.88" fill="#ffffff" fill-opacity="0.85"/><ellipse cx="408.4" cy="945.75" rx="4.22" ry="8.55" fill="url(#gGlow)"/><path d="M405.1 953.3 L416.1 953.3 L415.66 970.9 L405.54 970.9Z" fill="url(#gBlueL)"/><line x1="405.99" y1="954.1" x2="406.36" y2="970.3" stroke="#dde6ef" stroke-width="0.55" stroke-opacity="0.5"/><line x1="407.34" y1="953.6" x2="407.6" y2="970.7" stroke="#54708f" stroke-width="0.55" stroke-opacity="0.62"/><line x1="408.64" y1="954.1" x2="408.8" y2="970.3" stroke="#dde6ef" stroke-width="0.55" stroke-opacity="0.5"/><line x1="410.6" y1="953.6" x2="410.6" y2="970.7" stroke="#54708f" stroke-width="0.55" stroke-opacity="0.62"/><line x1="411.91" y1="954.1" x2="411.8" y2="970.3" stroke="#dde6ef" stroke-width="0.55" stroke-opacity="0.5"/><line x1="413.86" y1="953.6" x2="413.6" y2="970.7" stroke="#54708f" stroke-width="0.55" stroke-opacity="0.62"/><line x1="414.76" y1="954.1" x2="414.42" y2="970.3" stroke="#dde6ef" stroke-width="0.55" stroke-opacity="0.5"/><rect x="399" y="970.3" width="26" height="9.7" fill="url(#gBlueL)" rx="2.91"/><rect x="400.2" y="970.5" width="23.6" height="1.06" fill="#dde6ef" rx="0.4" fill-opacity="0.55"/><rect x="400.2" y="978.54" width="23.6" height="1.36" fill="#54708f" rx="0.4" fill-opacity="0.45"/><rect x="399.46" y="972.72" width="1.68" height="5.04" rx="0.84" fill="#7891ad" stroke="#dde6ef" stroke-opacity="0.8" stroke-width="0.49"/><rect x="402.9" y="972.72" width="2.5" height="5.04" rx="1.25" fill="#7891ad" stroke="#dde6ef" stroke-opacity="0.8" stroke-width="0.49"/><rect x="407.75" y="972.72" width="2.97" height="5.04" rx="1.49" fill="#7891ad" stroke="#dde6ef" stroke-opacity="0.8" stroke-width="0.49"/><rect x="413.28" y="972.72" width="2.97" height="5.04" rx="1.49" fill="#7891ad" stroke="#dde6ef" stroke-opacity="0.8" stroke-width="0.49"/><rect x="418.6" y="972.72" width="2.5" height="5.04" rx="1.25" fill="#7891ad" stroke="#dde6ef" stroke-opacity="0.8" stroke-width="0.49"/><rect x="422.85" y="972.72" width="1.68" height="5.04" rx="0.84" fill="#7891ad" stroke="#dde6ef" stroke-opacity="0.8" stroke-width="0.49"/><path d="M403.94 979.6 L420.06 979.6 Q412 987.33 403.94 979.6 Z" fill="#6a84a2"/><ellipse cx="412" cy="981.47" rx="5.8" ry="1.26" fill="#f2eee6" fill-opacity="0.9"/><rect x="409.4" y="982.1" width="5.2" height="2.62" fill="url(#gGold)" rx="0.8"/><rect x="653.75" y="905.1" width="9.5" height="53.9" fill="url(#gTube)" rx="1.5"/><line x1="654.18" y1="905.6" x2="654.18" y2="932.05" stroke="#ffffff" stroke-width="0.85" stroke-opacity="0.7"/><line x1="662.82" y1="905.6" x2="662.82" y2="932.05" stroke="#ffffff" stroke-width="0.85" stroke-opacity="0.7"/><line x1="655.12" y1="906.1" x2="655.12" y2="929.36" stroke="#9aa4b5" stroke-width="0.43" stroke-opacity="0.4"/><line x1="661.88" y1="906.1" x2="661.88" y2="929.36" stroke="#9aa4b5" stroke-width="0.43" stroke-opacity="0.4"/><ellipse cx="658.5" cy="905.8" rx="4.65" ry="0.95" fill="#ffffff" fill-opacity="0.85"/><ellipse cx="658.5" cy="950.31" rx="4.56" ry="8.69" fill="url(#gGlow)"/><path d="M651 958 L663 958 L662.52 974 L651.48 974Z" fill="url(#gBlueL)"/><line x1="651.98" y1="958.8" x2="652.38" y2="973.4" stroke="#dde6ef" stroke-width="0.6" stroke-opacity="0.5"/><line x1="653.44" y1="958.3" x2="653.73" y2="973.8" stroke="#54708f" stroke-width="0.6" stroke-opacity="0.62"/><line x1="654.86" y1="958.8" x2="655.04" y2="973.4" stroke="#dde6ef" stroke-width="0.6" stroke-opacity="0.5"/><line x1="657" y1="958.3" x2="657" y2="973.8" stroke="#54708f" stroke-width="0.6" stroke-opacity="0.62"/><line x1="658.42" y1="958.8" x2="658.31" y2="973.4" stroke="#dde6ef" stroke-width="0.6" stroke-opacity="0.5"/><line x1="660.56" y1="958.3" x2="660.27" y2="973.8" stroke="#54708f" stroke-width="0.6" stroke-opacity="0.62"/><line x1="661.54" y1="958.8" x2="661.17" y2="973.4" stroke="#dde6ef" stroke-width="0.6" stroke-opacity="0.5"/><rect x="640.05" y="973.4" width="28.5" height="10.1" fill="url(#gBlueL)" rx="3"/><rect x="641.25" y="973.6" width="26.1" height="1.11" fill="#dde6ef" rx="0.4" fill-opacity="0.55"/><rect x="641.25" y="981.99" width="26.1" height="1.41" fill="#54708f" rx="0.4" fill-opacity="0.45"/><rect x="640.56" y="975.92" width="1.85" height="5.25" rx="0.92" fill="#7891ad" stroke="#dde6ef" stroke-opacity="0.8" stroke-width="0.51"/><rect x="644.33" y="975.92" width="2.74" height="5.25" rx="1.37" fill="#7891ad" stroke="#dde6ef" stroke-opacity="0.8" stroke-width="0.51"/><rect x="649.64" y="975.92" width="3.26" height="5.25" rx="1.63" fill="#7891ad" stroke="#dde6ef" stroke-opacity="0.8" stroke-width="0.51"/><rect x="655.7" y="975.92" width="3.26" height="5.25" rx="1.63" fill="#7891ad" stroke="#dde6ef" stroke-opacity="0.8" stroke-width="0.51"/><rect x="661.53" y="975.92" width="2.74" height="5.25" rx="1.37" fill="#7891ad" stroke="#dde6ef" stroke-opacity="0.8" stroke-width="0.51"/><rect x="666.2" y="975.92" width="1.85" height="5.25" rx="0.92" fill="#7891ad" stroke="#dde6ef" stroke-opacity="0.8" stroke-width="0.51"/><path d="M645.46 983.1 L663.13 983.1 Q654.3 991.14 645.46 983.1 Z" fill="#6a84a2"/><ellipse cx="654.3" cy="985.03" rx="6.36" ry="1.31" fill="#f2eee6" fill-opacity="0.9"/><rect x="651.7" y="985.68" width="5.2" height="2.73" fill="url(#gGold)" rx="0.8"/><rect x="477.5" y="915.4" width="9" height="50.5" fill="url(#gTube)" rx="1.5"/><line x1="477.9" y1="915.9" x2="477.9" y2="940.65" stroke="#ffffff" stroke-width="0.81" stroke-opacity="0.7"/><line x1="486.1" y1="915.9" x2="486.1" y2="940.65" stroke="#ffffff" stroke-width="0.81" stroke-opacity="0.7"/><line x1="478.8" y1="916.4" x2="478.8" y2="938.12" stroke="#9aa4b5" stroke-width="0.4" stroke-opacity="0.4"/><line x1="485.2" y1="916.4" x2="485.2" y2="938.12" stroke="#9aa4b5" stroke-width="0.4" stroke-opacity="0.4"/><ellipse cx="482" cy="916.1" rx="4.4" ry="0.9" fill="#ffffff" fill-opacity="0.85"/><ellipse cx="482" cy="957.76" rx="4.32" ry="8.14" fill="url(#gGlow)"/><path d="M474.5 964.9 L488.7 964.9 L488.13 980.2 L475.07 980.2Z" fill="url(#gBlueL)"/><line x1="475.66" y1="965.7" x2="476.13" y2="979.6" stroke="#dde6ef" stroke-width="0.71" stroke-opacity="0.5"/><line x1="477.39" y1="965.2" x2="477.73" y2="980" stroke="#54708f" stroke-width="0.71" stroke-opacity="0.62"/><line x1="479.07" y1="965.7" x2="479.28" y2="979.6" stroke="#dde6ef" stroke-width="0.71" stroke-opacity="0.5"/><line x1="481.6" y1="965.2" x2="481.6" y2="980" stroke="#54708f" stroke-width="0.71" stroke-opacity="0.62"/><line x1="483.28" y1="965.7" x2="483.15" y2="979.6" stroke="#dde6ef" stroke-width="0.71" stroke-opacity="0.5"/><line x1="485.81" y1="965.2" x2="485.47" y2="980" stroke="#54708f" stroke-width="0.71" stroke-opacity="0.62"/><line x1="486.97" y1="965.7" x2="486.54" y2="979.6" stroke="#dde6ef" stroke-width="0.71" stroke-opacity="0.5"/><rect x="466.8" y="979.6" width="30" height="8.9" fill="url(#gBlueL)" rx="2.67"/><rect x="468" y="979.8" width="27.6" height="0.96" fill="#dde6ef" rx="0.4" fill-opacity="0.55"/><rect x="468" y="987.16" width="27.6" height="1.24" fill="#54708f" rx="0.4" fill-opacity="0.45"/><rect x="467.26" y="981.83" width="1.6" height="4.63" rx="0.8" fill="#7891ad" stroke="#dde6ef" stroke-opacity="0.8" stroke-width="0.44"/><rect x="470.49" y="981.83" width="2.32" height="4.63" rx="1.16" fill="#7891ad" stroke="#dde6ef" stroke-opacity="0.8" stroke-width="0.44"/><rect x="474.99" y="981.83" width="2.82" height="4.63" rx="1.41" fill="#7891ad" stroke="#dde6ef" stroke-opacity="0.8" stroke-width="0.44"/><rect x="480.3" y="981.83" width="3" height="4.63" rx="1.5" fill="#7891ad" stroke="#dde6ef" stroke-opacity="0.8" stroke-width="0.44"/><rect x="485.79" y="981.83" width="2.82" height="4.63" rx="1.41" fill="#7891ad" stroke="#dde6ef" stroke-opacity="0.8" stroke-width="0.44"/><rect x="490.79" y="981.83" width="2.32" height="4.63" rx="1.16" fill="#7891ad" stroke="#dde6ef" stroke-opacity="0.8" stroke-width="0.44"/><rect x="494.74" y="981.83" width="1.6" height="4.63" rx="0.8" fill="#7891ad" stroke="#dde6ef" stroke-opacity="0.8" stroke-width="0.44"/><path d="M472.5 988.1 L491.1 988.1 Q481.8 995.23 472.5 988.1 Z" fill="#6a84a2"/><ellipse cx="481.8" cy="989.85" rx="6.7" ry="1.15" fill="#f2eee6" fill-opacity="0.9"/><rect x="479.2" y="990.42" width="5.2" height="2.4" fill="url(#gGold)" rx="0.8"/><rect x="574.3" y="914.9" width="9" height="48.8" fill="url(#gTube)" rx="1.5"/><line x1="574.71" y1="915.4" x2="574.71" y2="939.3" stroke="#ffffff" stroke-width="0.81" stroke-opacity="0.7"/><line x1="582.9" y1="915.4" x2="582.9" y2="939.3" stroke="#ffffff" stroke-width="0.81" stroke-opacity="0.7"/><line x1="575.6" y1="915.9" x2="575.6" y2="936.86" stroke="#9aa4b5" stroke-width="0.4" stroke-opacity="0.4"/><line x1="582" y1="915.9" x2="582" y2="936.86" stroke="#9aa4b5" stroke-width="0.4" stroke-opacity="0.4"/><ellipse cx="578.8" cy="915.6" rx="4.4" ry="0.9" fill="#ffffff" fill-opacity="0.85"/><ellipse cx="578.8" cy="955.83" rx="4.32" ry="7.87" fill="url(#gGlow)"/><path d="M572.95 962.7 L587.25 962.7 L586.68 979.35 L573.52 979.35Z" fill="url(#gBlueL)"/><line x1="574.11" y1="963.5" x2="574.59" y2="978.75" stroke="#dde6ef" stroke-width="0.71" stroke-opacity="0.5"/><line x1="575.86" y1="963" x2="576.2" y2="979.15" stroke="#54708f" stroke-width="0.71" stroke-opacity="0.62"/><line x1="577.56" y1="963.5" x2="577.76" y2="978.75" stroke="#dde6ef" stroke-width="0.71" stroke-opacity="0.5"/><line x1="580.1" y1="963" x2="580.1" y2="979.15" stroke="#54708f" stroke-width="0.71" stroke-opacity="0.62"/><line x1="581.8" y1="963.5" x2="581.66" y2="978.75" stroke="#dde6ef" stroke-width="0.71" stroke-opacity="0.5"/><line x1="584.34" y1="963" x2="584" y2="979.15" stroke="#54708f" stroke-width="0.71" stroke-opacity="0.62"/><line x1="585.5" y1="963.5" x2="585.07" y2="978.75" stroke="#dde6ef" stroke-width="0.71" stroke-opacity="0.5"/><rect x="565.35" y="978.75" width="27.3" height="8.75" fill="url(#gBlueL)" rx="2.62"/><rect x="566.55" y="978.95" width="24.9" height="0.94" fill="#dde6ef" rx="0.4" fill-opacity="0.55"/><rect x="566.55" y="986.19" width="24.9" height="1.21" fill="#54708f" rx="0.4" fill-opacity="0.45"/><rect x="565.84" y="980.94" width="1.77" height="4.55" rx="0.88" fill="#7891ad" stroke="#dde6ef" stroke-opacity="0.8" stroke-width="0.44"/><rect x="569.45" y="980.94" width="2.63" height="4.55" rx="1.31" fill="#7891ad" stroke="#dde6ef" stroke-opacity="0.8" stroke-width="0.44"/><rect x="574.54" y="980.94" width="3.12" height="4.55" rx="1.52" fill="#7891ad" stroke="#dde6ef" stroke-opacity="0.8" stroke-width="0.44"/><rect x="580.34" y="980.94" width="3.12" height="4.55" rx="1.52" fill="#7891ad" stroke="#dde6ef" stroke-opacity="0.8" stroke-width="0.44"/><rect x="585.93" y="980.94" width="2.63" height="4.55" rx="1.31" fill="#7891ad" stroke="#dde6ef" stroke-opacity="0.8" stroke-width="0.44"/><rect x="590.4" y="980.94" width="1.77" height="4.55" rx="0.88" fill="#7891ad" stroke="#dde6ef" stroke-opacity="0.8" stroke-width="0.44"/><path d="M570.54 987.1 L587.46 987.1 Q579 994.12 570.54 987.1 Z" fill="#6a84a2"/><ellipse cx="579" cy="988.82" rx="6.09" ry="1.13" fill="#f2eee6" fill-opacity="0.9"/><rect x="576.4" y="989.39" width="5.2" height="2.36" fill="url(#gGold)" rx="0.8"/><rect x="458.8" y="867.6" width="10.8" height="62.6" fill="url(#gTube)" rx="1.5"/><line x1="459.29" y1="868.1" x2="459.29" y2="898.9" stroke="#ffffff" stroke-width="0.97" stroke-opacity="0.7"/><line x1="469.11" y1="868.1" x2="469.11" y2="898.9" stroke="#ffffff" stroke-width="0.97" stroke-opacity="0.7"/><line x1="460.36" y1="868.6" x2="460.36" y2="895.77" stroke="#9aa4b5" stroke-width="0.49" stroke-opacity="0.4"/><line x1="468.04" y1="868.6" x2="468.04" y2="895.77" stroke="#9aa4b5" stroke-width="0.49" stroke-opacity="0.4"/><ellipse cx="464.2" cy="868.3" rx="5.3" ry="1.08" fill="#ffffff" fill-opacity="0.85"/><ellipse cx="464.2" cy="920.11" rx="5.18" ry="10.09" fill="url(#gGlow)"/><path d="M454.05 929.2 L473.55 929.2 L472.77 949.4 L454.83 949.4Z" fill="url(#gBlueL)"/><line x1="455.24" y1="930" x2="455.93" y2="948.8" stroke="#dde6ef" stroke-width="0.78" stroke-opacity="0.5"/><line x1="457.03" y1="929.5" x2="457.57" y2="949.2" stroke="#54708f" stroke-width="0.78" stroke-opacity="0.62"/><line x1="458.77" y1="930" x2="459.17" y2="948.8" stroke="#dde6ef" stroke-width="0.78" stroke-opacity="0.5"/><line x1="461.37" y1="929.5" x2="461.57" y2="949.2" stroke="#54708f" stroke-width="0.78" stroke-opacity="0.62"/><line x1="463.31" y1="930" x2="463.35" y2="948.8" stroke="#dde6ef" stroke-width="0.78" stroke-opacity="0.5"/><line x1="466.23" y1="929.5" x2="466.03" y2="949.2" stroke="#54708f" stroke-width="0.78" stroke-opacity="0.62"/><line x1="467.96" y1="930" x2="467.63" y2="948.8" stroke="#dde6ef" stroke-width="0.78" stroke-opacity="0.5"/><line x1="470.57" y1="929.5" x2="470.03" y2="949.2" stroke="#54708f" stroke-width="0.78" stroke-opacity="0.62"/><line x1="471.76" y1="930" x2="471.12" y2="948.8" stroke="#dde6ef" stroke-width="0.78" stroke-opacity="0.5"/><rect x="443.9" y="948.8" width="38.8" height="11.4" fill="url(#gBlueL)" rx="3"/><rect x="445.1" y="949" width="36.4" height="1.28" fill="#dde6ef" rx="0.4" fill-opacity="0.55"/><rect x="445.1" y="958.49" width="36.4" height="1.61" fill="#54708f" rx="0.4" fill-opacity="0.45"/><rect x="444.36" y="951.65" width="1.52" height="5.93" rx="0.76" fill="#7891ad" stroke="#dde6ef" stroke-opacity="0.8" stroke-width="0.57"/><rect x="447.38" y="951.65" width="2.11" height="5.93" rx="1.06" fill="#7891ad" stroke="#dde6ef" stroke-opacity="0.8" stroke-width="0.57"/><rect x="451.46" y="951.65" width="2.59" height="5.93" rx="1.3" fill="#7891ad" stroke="#dde6ef" stroke-opacity="0.8" stroke-width="0.57"/><rect x="456.37" y="951.65" width="2.91" height="5.93" rx="1.45" fill="#7891ad" stroke="#dde6ef" stroke-opacity="0.8" stroke-width="0.57"/><rect x="461.79" y="951.65" width="3.02" height="5.93" rx="1.51" fill="#7891ad" stroke="#dde6ef" stroke-opacity="0.8" stroke-width="0.57"/><rect x="467.32" y="951.65" width="2.91" height="5.93" rx="1.45" fill="#7891ad" stroke="#dde6ef" stroke-opacity="0.8" stroke-width="0.57"/><rect x="472.55" y="951.65" width="2.59" height="5.93" rx="1.3" fill="#7891ad" stroke="#dde6ef" stroke-opacity="0.8" stroke-width="0.57"/><rect x="477.11" y="951.65" width="2.11" height="5.93" rx="1.06" fill="#7891ad" stroke="#dde6ef" stroke-opacity="0.8" stroke-width="0.57"/><rect x="480.71" y="951.65" width="1.52" height="5.93" rx="0.76" fill="#7891ad" stroke="#dde6ef" stroke-opacity="0.8" stroke-width="0.57"/><path d="M451.27 959.8 L475.33 959.8 Q463.3 968.82 451.27 959.8 Z" fill="#6a84a2"/><ellipse cx="463.3" cy="961.92" rx="8.66" ry="1.48" fill="#f2eee6" fill-opacity="0.9"/><rect x="460.7" y="962.66" width="5.2" height="3.08" fill="url(#gGold)" rx="0.8"/><rect x="590.4" y="866.25" width="11.4" height="62.65" fill="url(#gTube)" rx="1.5"/><line x1="590.91" y1="866.75" x2="590.91" y2="897.58" stroke="#ffffff" stroke-width="1.03" stroke-opacity="0.7"/><line x1="601.29" y1="866.75" x2="601.29" y2="897.58" stroke="#ffffff" stroke-width="1.03" stroke-opacity="0.7"/><line x1="592.04" y1="867.25" x2="592.04" y2="894.44" stroke="#9aa4b5" stroke-width="0.51" stroke-opacity="0.4"/><line x1="600.16" y1="867.25" x2="600.16" y2="894.44" stroke="#9aa4b5" stroke-width="0.51" stroke-opacity="0.4"/><ellipse cx="596.1" cy="866.95" rx="5.6" ry="1.14" fill="#ffffff" fill-opacity="0.85"/><ellipse cx="596.1" cy="918.8" rx="5.47" ry="10.1" fill="url(#gGlow)"/><path d="M586.05 927.9 L604.75 927.9 L604 949 L586.8 949Z" fill="url(#gBlueL)"/><line x1="587.19" y1="928.7" x2="587.85" y2="948.4" stroke="#dde6ef" stroke-width="0.75" stroke-opacity="0.5"/><line x1="588.91" y1="928.2" x2="589.43" y2="948.8" stroke="#54708f" stroke-width="0.75" stroke-opacity="0.62"/><line x1="590.57" y1="928.7" x2="590.96" y2="948.4" stroke="#dde6ef" stroke-width="0.75" stroke-opacity="0.5"/><line x1="593.07" y1="928.2" x2="593.26" y2="948.8" stroke="#54708f" stroke-width="0.75" stroke-opacity="0.62"/><line x1="594.93" y1="928.7" x2="594.97" y2="948.4" stroke="#dde6ef" stroke-width="0.75" stroke-opacity="0.5"/><line x1="597.73" y1="928.2" x2="597.54" y2="948.8" stroke="#54708f" stroke-width="0.75" stroke-opacity="0.62"/><line x1="599.39" y1="928.7" x2="599.07" y2="948.4" stroke="#dde6ef" stroke-width="0.75" stroke-opacity="0.5"/><line x1="601.89" y1="928.2" x2="601.37" y2="948.8" stroke="#54708f" stroke-width="0.75" stroke-opacity="0.62"/><line x1="603.03" y1="928.7" x2="602.42" y2="948.4" stroke="#dde6ef" stroke-width="0.75" stroke-opacity="0.5"/><rect x="576.2" y="948.4" width="38.6" height="11.2" fill="url(#gBlueL)" rx="3"/><rect x="577.4" y="948.6" width="36.2" height="1.26" fill="#dde6ef" rx="0.4" fill-opacity="0.55"/><rect x="577.4" y="957.92" width="36.2" height="1.58" fill="#54708f" rx="0.4" fill-opacity="0.45"/><rect x="576.66" y="951.2" width="1.51" height="5.82" rx="0.76" fill="#7891ad" stroke="#dde6ef" stroke-opacity="0.8" stroke-width="0.56"/><rect x="579.66" y="951.2" width="2.1" height="5.82" rx="1.05" fill="#7891ad" stroke="#dde6ef" stroke-opacity="0.8" stroke-width="0.56"/><rect x="583.72" y="951.2" width="2.58" height="5.82" rx="1.29" fill="#7891ad" stroke="#dde6ef" stroke-opacity="0.8" stroke-width="0.56"/><rect x="588.61" y="951.2" width="2.89" height="5.82" rx="1.45" fill="#7891ad" stroke="#dde6ef" stroke-opacity="0.8" stroke-width="0.56"/><rect x="594" y="951.2" width="3" height="5.82" rx="1.5" fill="#7891ad" stroke="#dde6ef" stroke-opacity="0.8" stroke-width="0.56"/><rect x="599.5" y="951.2" width="2.89" height="5.82" rx="1.45" fill="#7891ad" stroke="#dde6ef" stroke-opacity="0.8" stroke-width="0.56"/><rect x="604.7" y="951.2" width="2.58" height="5.82" rx="1.29" fill="#7891ad" stroke="#dde6ef" stroke-opacity="0.8" stroke-width="0.56"/><rect x="609.24" y="951.2" width="2.1" height="5.82" rx="1.05" fill="#7891ad" stroke="#dde6ef" stroke-opacity="0.8" stroke-width="0.56"/><rect x="612.82" y="951.2" width="1.51" height="5.82" rx="0.76" fill="#7891ad" stroke="#dde6ef" stroke-opacity="0.8" stroke-width="0.56"/><path d="M583.53 959.2 L607.47 959.2 Q595.5 968.07 583.53 959.2 Z" fill="#6a84a2"/><ellipse cx="595.5" cy="961.29" rx="8.62" ry="1.45" fill="#f2eee6" fill-opacity="0.9"/><rect x="592.9" y="962.02" width="5.2" height="3.02" fill="url(#gGold)" rx="0.8"/><rect x="390.1" y="881.4" width="11" height="59.1" fill="url(#gTube)" rx="1.5"/><line x1="390.59" y1="881.9" x2="390.59" y2="910.95" stroke="#ffffff" stroke-width="0.99" stroke-opacity="0.7"/><line x1="400.6" y1="881.9" x2="400.6" y2="910.95" stroke="#ffffff" stroke-width="0.99" stroke-opacity="0.7"/><line x1="391.68" y1="882.4" x2="391.68" y2="908" stroke="#9aa4b5" stroke-width="0.49" stroke-opacity="0.4"/><line x1="399.52" y1="882.4" x2="399.52" y2="908" stroke="#9aa4b5" stroke-width="0.49" stroke-opacity="0.4"/><ellipse cx="395.6" cy="882.1" rx="5.4" ry="1.1" fill="#ffffff" fill-opacity="0.85"/><ellipse cx="395.6" cy="930.97" rx="5.28" ry="9.53" fill="url(#gGlow)"/><path d="M387 939.5 L404.4 939.5 L403.7 959.3 L387.7 959.3Z" fill="url(#gBlueL)"/><line x1="388.06" y1="940.3" x2="388.68" y2="958.7" stroke="#dde6ef" stroke-width="0.7" stroke-opacity="0.5"/><line x1="389.66" y1="939.8" x2="390.14" y2="959.1" stroke="#54708f" stroke-width="0.7" stroke-opacity="0.62"/><line x1="391.21" y1="940.3" x2="391.57" y2="958.7" stroke="#dde6ef" stroke-width="0.7" stroke-opacity="0.5"/><line x1="393.53" y1="939.8" x2="393.71" y2="959.1" stroke="#54708f" stroke-width="0.7" stroke-opacity="0.62"/><line x1="395.27" y1="940.3" x2="395.3" y2="958.7" stroke="#dde6ef" stroke-width="0.7" stroke-opacity="0.5"/><line x1="397.87" y1="939.8" x2="397.69" y2="959.1" stroke="#54708f" stroke-width="0.7" stroke-opacity="0.62"/><line x1="399.42" y1="940.3" x2="399.12" y2="958.7" stroke="#dde6ef" stroke-width="0.7" stroke-opacity="0.5"/><line x1="401.74" y1="939.8" x2="401.26" y2="959.1" stroke="#54708f" stroke-width="0.7" stroke-opacity="0.62"/><line x1="402.8" y1="940.3" x2="402.23" y2="958.7" stroke="#dde6ef" stroke-width="0.7" stroke-opacity="0.5"/><rect x="377.1" y="958.7" width="35.8" height="9.8" fill="url(#gBlueL)" rx="2.94"/><rect x="378.3" y="958.9" width="33.4" height="1.07" fill="#dde6ef" rx="0.4" fill-opacity="0.55"/><rect x="378.3" y="967.03" width="33.4" height="1.37" fill="#54708f" rx="0.4" fill-opacity="0.45"/><rect x="377.58" y="961.15" width="1.62" height="5.1" rx="0.81" fill="#7891ad" stroke="#dde6ef" stroke-opacity="0.8" stroke-width="0.49"/><rect x="380.82" y="961.15" width="2.3" height="5.1" rx="1.15" fill="#7891ad" stroke="#dde6ef" stroke-opacity="0.8" stroke-width="0.49"/><rect x="385.26" y="961.15" width="2.82" height="5.1" rx="1.41" fill="#7891ad" stroke="#dde6ef" stroke-opacity="0.8" stroke-width="0.49"/><rect x="390.59" y="961.15" width="3.1" height="5.1" rx="1.55" fill="#7891ad" stroke="#dde6ef" stroke-opacity="0.8" stroke-width="0.49"/><rect x="396.32" y="961.15" width="3.1" height="5.1" rx="1.55" fill="#7891ad" stroke="#dde6ef" stroke-opacity="0.8" stroke-width="0.49"/><rect x="401.92" y="961.15" width="2.82" height="5.1" rx="1.41" fill="#7891ad" stroke="#dde6ef" stroke-opacity="0.8" stroke-width="0.49"/><rect x="406.89" y="961.15" width="2.3" height="5.1" rx="1.15" fill="#7891ad" stroke="#dde6ef" stroke-opacity="0.8" stroke-width="0.49"/><rect x="410.8" y="961.15" width="1.62" height="5.1" rx="0.81" fill="#7891ad" stroke="#dde6ef" stroke-opacity="0.8" stroke-width="0.49"/><path d="M383.9 968.1 L406.1 968.1 Q395 975.91 383.9 968.1 Z" fill="#6a84a2"/><ellipse cx="395" cy="969.98" rx="7.99" ry="1.27" fill="#f2eee6" fill-opacity="0.9"/><rect x="392.4" y="970.62" width="5.2" height="2.65" fill="url(#gGold)" rx="0.8"/><rect x="666.75" y="883.7" width="10.7" height="58.1" fill="url(#gTube)" rx="1.5"/><line x1="667.23" y1="884.2" x2="667.23" y2="912.75" stroke="#ffffff" stroke-width="0.96" stroke-opacity="0.7"/><line x1="676.97" y1="884.2" x2="676.97" y2="912.75" stroke="#ffffff" stroke-width="0.96" stroke-opacity="0.7"/><line x1="668.29" y1="884.7" x2="668.29" y2="909.85" stroke="#9aa4b5" stroke-width="0.48" stroke-opacity="0.4"/><line x1="675.91" y1="884.7" x2="675.91" y2="909.85" stroke="#9aa4b5" stroke-width="0.48" stroke-opacity="0.4"/><ellipse cx="672.1" cy="884.4" rx="5.25" ry="1.07" fill="#ffffff" fill-opacity="0.85"/><ellipse cx="672.1" cy="932.43" rx="5.14" ry="9.37" fill="url(#gGlow)"/><path d="M661.35 940.8 L679.25 940.8 L678.53 959.1 L662.07 959.1Z" fill="url(#gBlueL)"/><line x1="662.45" y1="941.6" x2="663.07" y2="958.5" stroke="#dde6ef" stroke-width="0.72" stroke-opacity="0.5"/><line x1="664.09" y1="941.1" x2="664.59" y2="958.9" stroke="#54708f" stroke-width="0.72" stroke-opacity="0.62"/><line x1="665.68" y1="941.6" x2="666.05" y2="958.5" stroke="#dde6ef" stroke-width="0.72" stroke-opacity="0.5"/><line x1="668.07" y1="941.1" x2="668.25" y2="958.9" stroke="#54708f" stroke-width="0.72" stroke-opacity="0.62"/><line x1="669.85" y1="941.6" x2="669.89" y2="958.5" stroke="#dde6ef" stroke-width="0.72" stroke-opacity="0.5"/><line x1="672.53" y1="941.1" x2="672.35" y2="958.9" stroke="#54708f" stroke-width="0.72" stroke-opacity="0.62"/><line x1="674.12" y1="941.6" x2="673.82" y2="958.5" stroke="#dde6ef" stroke-width="0.72" stroke-opacity="0.5"/><line x1="676.51" y1="941.1" x2="676.01" y2="958.9" stroke="#54708f" stroke-width="0.72" stroke-opacity="0.62"/><line x1="677.61" y1="941.6" x2="677.02" y2="958.5" stroke="#dde6ef" stroke-width="0.72" stroke-opacity="0.5"/><rect x="649.8" y="958.5" width="38.4" height="11.8" fill="url(#gBlueL)" rx="3"/><rect x="651" y="958.7" width="36" height="1.33" fill="#dde6ef" rx="0.4" fill-opacity="0.55"/><rect x="651" y="968.53" width="36" height="1.67" fill="#54708f" rx="0.4" fill-opacity="0.45"/><rect x="650.26" y="961.45" width="1.51" height="6.14" rx="0.75" fill="#7891ad" stroke="#dde6ef" stroke-opacity="0.8" stroke-width="0.59"/><rect x="653.24" y="961.45" width="2.09" height="6.14" rx="1.05" fill="#7891ad" stroke="#dde6ef" stroke-opacity="0.8" stroke-width="0.59"/><rect x="657.28" y="961.45" width="2.57" height="6.14" rx="1.28" fill="#7891ad" stroke="#dde6ef" stroke-opacity="0.8" stroke-width="0.59"/><rect x="662.14" y="961.45" width="2.88" height="6.14" rx="1.44" fill="#7891ad" stroke="#dde6ef" stroke-opacity="0.8" stroke-width="0.59"/><rect x="667.51" y="961.45" width="2.99" height="6.14" rx="1.49" fill="#7891ad" stroke="#dde6ef" stroke-opacity="0.8" stroke-width="0.59"/><rect x="672.98" y="961.45" width="2.88" height="6.14" rx="1.44" fill="#7891ad" stroke="#dde6ef" stroke-opacity="0.8" stroke-width="0.59"/><rect x="678.15" y="961.45" width="2.57" height="6.14" rx="1.28" fill="#7891ad" stroke="#dde6ef" stroke-opacity="0.8" stroke-width="0.59"/><rect x="682.67" y="961.45" width="2.09" height="6.14" rx="1.05" fill="#7891ad" stroke="#dde6ef" stroke-opacity="0.8" stroke-width="0.59"/><rect x="686.23" y="961.45" width="1.51" height="6.14" rx="0.75" fill="#7891ad" stroke="#dde6ef" stroke-opacity="0.8" stroke-width="0.59"/><path d="M657.1 969.9 L680.9 969.9 Q669 979.22 657.1 969.9 Z" fill="#6a84a2"/><ellipse cx="669" cy="972.08" rx="8.57" ry="1.53" fill="#f2eee6" fill-opacity="0.9"/><rect x="666.4" y="972.85" width="5.2" height="3.19" fill="url(#gGold)" rx="0.8"/><path d="M523 886 L543 886 L543 959.5 L523 959.5Z" fill="url(#gBlueK)"/><line x1="524.22" y1="886.8" x2="524.22" y2="958.9" stroke="#c8d5e2" stroke-width="0.8" stroke-opacity="0.5"/><line x1="526.06" y1="886.3" x2="526.06" y2="959.3" stroke="#465e78" stroke-width="0.8" stroke-opacity="0.62"/><line x1="527.84" y1="886.8" x2="527.84" y2="958.9" stroke="#c8d5e2" stroke-width="0.8" stroke-opacity="0.5"/><line x1="530.51" y1="886.3" x2="530.51" y2="959.3" stroke="#465e78" stroke-width="0.8" stroke-opacity="0.62"/><line x1="532.5" y1="886.8" x2="532.5" y2="958.9" stroke="#c8d5e2" stroke-width="0.8" stroke-opacity="0.5"/><line x1="535.49" y1="886.3" x2="535.49" y2="959.3" stroke="#465e78" stroke-width="0.8" stroke-opacity="0.62"/><line x1="537.27" y1="886.8" x2="537.27" y2="958.9" stroke="#c8d5e2" stroke-width="0.8" stroke-opacity="0.5"/><line x1="539.94" y1="886.3" x2="539.94" y2="959.3" stroke="#465e78" stroke-width="0.8" stroke-opacity="0.62"/><line x1="541.16" y1="886.8" x2="541.16" y2="958.9" stroke="#c8d5e2" stroke-width="0.8" stroke-opacity="0.5"/><path d="M520 959 L546 959 L546 1038 L520 1038Z" fill="url(#gBlueK)"/><line x1="521.27" y1="959.8" x2="521.27" y2="1037.4" stroke="#c8d5e2" stroke-width="0.87" stroke-opacity="0.5"/><line x1="523.17" y1="959.3" x2="523.17" y2="1037.8" stroke="#465e78" stroke-width="0.87" stroke-opacity="0.62"/><line x1="524.98" y1="959.8" x2="524.98" y2="1037.4" stroke="#c8d5e2" stroke-width="0.87" stroke-opacity="0.5"/><line x1="527.69" y1="959.3" x2="527.69" y2="1037.8" stroke="#465e78" stroke-width="0.87" stroke-opacity="0.62"/><line x1="529.82" y1="959.8" x2="529.82" y2="1037.4" stroke="#c8d5e2" stroke-width="0.87" stroke-opacity="0.5"/><line x1="533" y1="959.3" x2="533" y2="1037.8" stroke="#465e78" stroke-width="0.87" stroke-opacity="0.62"/><line x1="535.12" y1="959.8" x2="535.12" y2="1037.4" stroke="#c8d5e2" stroke-width="0.87" stroke-opacity="0.5"/><line x1="538.31" y1="959.3" x2="538.31" y2="1037.8" stroke="#465e78" stroke-width="0.87" stroke-opacity="0.62"/><line x1="540.12" y1="959.8" x2="540.12" y2="1037.4" stroke="#c8d5e2" stroke-width="0.87" stroke-opacity="0.5"/><line x1="542.83" y1="959.3" x2="542.83" y2="1037.8" stroke="#465e78" stroke-width="0.87" stroke-opacity="0.62"/><line x1="544.1" y1="959.8" x2="544.1" y2="1037.4" stroke="#c8d5e2" stroke-width="0.87" stroke-opacity="0.5"/><ellipse cx="500.68" cy="1037.3" rx="1.28" ry="1.07" fill="#7a93ad"/><ellipse cx="503.51" cy="1037.3" rx="1.56" ry="1.31" fill="#7a93ad"/><ellipse cx="506.89" cy="1037.3" rx="1.82" ry="1.53" fill="#7a93ad"/><ellipse cx="510.77" cy="1037.3" rx="2.06" ry="1.73" fill="#7a93ad"/><ellipse cx="515.08" cy="1037.3" rx="2.26" ry="1.9" fill="#7a93ad"/><ellipse cx="519.76" cy="1037.3" rx="2.42" ry="2.03" fill="#7a93ad"/><ellipse cx="524.71" cy="1037.3" rx="2.53" ry="2.12" fill="#7a93ad"/><ellipse cx="529.82" cy="1037.3" rx="2.58" ry="2.17" fill="#7a93ad"/><ellipse cx="534.98" cy="1037.3" rx="2.58" ry="2.17" fill="#7a93ad"/><ellipse cx="540.09" cy="1037.3" rx="2.53" ry="2.12" fill="#7a93ad"/><ellipse cx="545.04" cy="1037.3" rx="2.42" ry="2.03" fill="#7a93ad"/><ellipse cx="549.72" cy="1037.3" rx="2.26" ry="1.9" fill="#7a93ad"/><ellipse cx="554.03" cy="1037.3" rx="2.06" ry="1.73" fill="#7a93ad"/><ellipse cx="557.91" cy="1037.3" rx="1.82" ry="1.53" fill="#7a93ad"/><ellipse cx="561.29" cy="1037.3" rx="1.56" ry="1.31" fill="#7a93ad"/><ellipse cx="564.12" cy="1037.3" rx="1.28" ry="1.07" fill="#7a93ad"/><path d="M499.4 1037 L565.4 1037 L566.4 1054.8 L498.4 1054.8Z" fill="url(#gBlueK)"/><line x1="500.42" y1="1037.8" x2="499.45" y2="1054.2" stroke="#c8d5e2" stroke-width="0.83" stroke-opacity="0.5"/><line x1="501.95" y1="1037.3" x2="501.03" y2="1054.6" stroke="#465e78" stroke-width="0.83" stroke-opacity="0.62"/><line x1="503.2" y1="1037.8" x2="502.31" y2="1054.2" stroke="#c8d5e2" stroke-width="0.83" stroke-opacity="0.5"/><line x1="505.07" y1="1037.3" x2="504.24" y2="1054.6" stroke="#465e78" stroke-width="0.83" stroke-opacity="0.62"/><line x1="506.52" y1="1037.8" x2="505.74" y2="1054.2" stroke="#c8d5e2" stroke-width="0.83" stroke-opacity="0.5"/><line x1="508.71" y1="1037.3" x2="507.99" y2="1054.6" stroke="#465e78" stroke-width="0.83" stroke-opacity="0.62"/><line x1="510.36" y1="1037.8" x2="509.69" y2="1054.2" stroke="#c8d5e2" stroke-width="0.83" stroke-opacity="0.5"/><line x1="512.82" y1="1037.3" x2="512.23" y2="1054.6" stroke="#465e78" stroke-width="0.83" stroke-opacity="0.62"/><line x1="514.63" y1="1037.8" x2="514.09" y2="1054.2" stroke="#c8d5e2" stroke-width="0.83" stroke-opacity="0.5"/><line x1="517.34" y1="1037.3" x2="516.89" y2="1054.6" stroke="#465e78" stroke-width="0.83" stroke-opacity="0.62"/><line x1="519.28" y1="1037.8" x2="518.88" y2="1054.2" stroke="#c8d5e2" stroke-width="0.83" stroke-opacity="0.5"/><line x1="522.18" y1="1037.3" x2="521.87" y2="1054.6" stroke="#465e78" stroke-width="0.83" stroke-opacity="0.62"/><line x1="524.2" y1="1037.8" x2="523.95" y2="1054.2" stroke="#c8d5e2" stroke-width="0.83" stroke-opacity="0.5"/><line x1="527.23" y1="1037.3" x2="527.08" y2="1054.6" stroke="#465e78" stroke-width="0.83" stroke-opacity="0.62"/><line x1="529.3" y1="1037.8" x2="529.21" y2="1054.2" stroke="#c8d5e2" stroke-width="0.83" stroke-opacity="0.5"/><line x1="532.4" y1="1037.3" x2="532.4" y2="1054.6" stroke="#465e78" stroke-width="0.83" stroke-opacity="0.62"/><line x1="534.47" y1="1037.8" x2="534.53" y2="1054.2" stroke="#c8d5e2" stroke-width="0.83" stroke-opacity="0.5"/><line x1="537.57" y1="1037.3" x2="537.72" y2="1054.6" stroke="#465e78" stroke-width="0.83" stroke-opacity="0.62"/><line x1="539.59" y1="1037.8" x2="539.81" y2="1054.2" stroke="#c8d5e2" stroke-width="0.83" stroke-opacity="0.5"/><line x1="542.62" y1="1037.3" x2="542.93" y2="1054.6" stroke="#465e78" stroke-width="0.83" stroke-opacity="0.62"/><line x1="544.55" y1="1037.8" x2="544.92" y2="1054.2" stroke="#c8d5e2" stroke-width="0.83" stroke-opacity="0.5"/><line x1="547.46" y1="1037.3" x2="547.91" y2="1054.6" stroke="#465e78" stroke-width="0.83" stroke-opacity="0.62"/><line x1="549.26" y1="1037.8" x2="549.78" y2="1054.2" stroke="#c8d5e2" stroke-width="0.83" stroke-opacity="0.5"/><line x1="551.98" y1="1037.3" x2="552.57" y2="1054.6" stroke="#465e78" stroke-width="0.83" stroke-opacity="0.62"/><line x1="553.62" y1="1037.8" x2="554.26" y2="1054.2" stroke="#c8d5e2" stroke-width="0.83" stroke-opacity="0.5"/><line x1="556.09" y1="1037.3" x2="556.81" y2="1054.6" stroke="#465e78" stroke-width="0.83" stroke-opacity="0.62"/><line x1="557.55" y1="1037.8" x2="558.31" y2="1054.2" stroke="#c8d5e2" stroke-width="0.83" stroke-opacity="0.5"/><line x1="559.73" y1="1037.3" x2="560.56" y2="1054.6" stroke="#465e78" stroke-width="0.83" stroke-opacity="0.62"/><line x1="560.98" y1="1037.8" x2="561.84" y2="1054.2" stroke="#c8d5e2" stroke-width="0.83" stroke-opacity="0.5"/><line x1="562.85" y1="1037.3" x2="563.77" y2="1054.6" stroke="#465e78" stroke-width="0.83" stroke-opacity="0.62"/><line x1="563.87" y1="1037.8" x2="564.82" y2="1054.2" stroke="#c8d5e2" stroke-width="0.83" stroke-opacity="0.5"/><rect x="498.4" y="1053.1" width="68" height="5.2" fill="#7a93ad" rx="1.8"/><rect x="499.9" y="1056.8" width="65" height="1.4" fill="#ece7dc" rx="0.7" fill-opacity="0.85"/><path d="M523.9 1058.3 L540.9 1058.3 L539.5 1073.3 L525.3 1073.3Z" fill="url(#gBlueK)"/><line x1="525.28" y1="1059.1" x2="526.46" y2="1072.7" stroke="#c8d5e2" stroke-width="0.85" stroke-opacity="0.5"/><line x1="527.36" y1="1058.6" x2="528.19" y2="1073.1" stroke="#465e78" stroke-width="0.85" stroke-opacity="0.62"/><line x1="529.37" y1="1059.1" x2="529.87" y2="1072.7" stroke="#c8d5e2" stroke-width="0.85" stroke-opacity="0.5"/><line x1="532.4" y1="1058.6" x2="532.4" y2="1073.1" stroke="#465e78" stroke-width="0.85" stroke-opacity="0.62"/><line x1="534.42" y1="1059.1" x2="534.08" y2="1072.7" stroke="#c8d5e2" stroke-width="0.85" stroke-opacity="0.5"/><line x1="537.44" y1="1058.6" x2="536.61" y2="1073.1" stroke="#465e78" stroke-width="0.85" stroke-opacity="0.62"/><line x1="538.83" y1="1059.1" x2="537.77" y2="1072.7" stroke="#c8d5e2" stroke-width="0.85" stroke-opacity="0.5"/><rect x="530.8" y="1072.8" width="3.2" height="5" fill="url(#gGold)"/><ellipse cx="532.4" cy="1077.8" rx="3.7" ry="3.7" fill="#a98a62"/><ellipse cx="531.4" cy="1076.7" rx="1.5" ry="1.5" fill="#fbf1dd"/></g>

<g id="floorlamp"><ellipse cx="1118.3" cy="1079" rx="64" ry="9" fill="url(#gShadow)" opacity="0.45"/><path d="M1066.3 1057.4 L1066.3 1067.6 A52 16.4 0 0 0 1170.3 1067.6 L1170.3 1057.4Z" fill="url(#gBaseSide)"/><ellipse cx="1118.3" cy="1057.4" rx="52" ry="16.4" fill="url(#gBaseTop)"/><path d="M1066.3 1057.4 A52 16.4 0 0 0 1170.3 1057.4" fill="none" stroke="#efe0c2" stroke-width="0.9" stroke-opacity="0.9"/><rect x="1114.8" y="1058" width="7" height="15.6" fill="url(#gGold)" opacity="0.85"/><rect x="1114.6" y="590" width="7.4" height="468" fill="url(#gGold)"/><rect x="1112.9" y="1054.2" width="10.8" height="5.2" fill="url(#gGold)" rx="2.4"/><rect x="1109" y="584" width="17.6" height="7.5" fill="url(#gGold)" rx="1"/><rect x="1109.5" y="555" width="15.5" height="29.5" fill="url(#gWarmV2)"/><path d="M1104 534.5 L1131 534.5 L1130.6 556 L1104.4 556Z" fill="url(#gBlueD)"/><line x1="1105.09" y1="535.3" x2="1105.46" y2="555.4" stroke="#c9d6e3" stroke-width="0.77" stroke-opacity="0.5"/><line x1="1106.72" y1="534.8" x2="1107.04" y2="555.8" stroke="#3a4d63" stroke-width="0.77" stroke-opacity="0.62"/><line x1="1108.25" y1="535.3" x2="1108.52" y2="555.4" stroke="#c9d6e3" stroke-width="0.77" stroke-opacity="0.5"/><line x1="1110.53" y1="534.8" x2="1110.74" y2="555.8" stroke="#3a4d63" stroke-width="0.77" stroke-opacity="0.62"/><line x1="1112.35" y1="535.3" x2="1112.51" y2="555.4" stroke="#c9d6e3" stroke-width="0.77" stroke-opacity="0.5"/><line x1="1115.09" y1="534.8" x2="1115.16" y2="555.8" stroke="#3a4d63" stroke-width="0.77" stroke-opacity="0.62"/><line x1="1117.02" y1="535.3" x2="1117.03" y2="555.4" stroke="#c9d6e3" stroke-width="0.77" stroke-opacity="0.5"/><line x1="1119.91" y1="534.8" x2="1119.84" y2="555.8" stroke="#3a4d63" stroke-width="0.77" stroke-opacity="0.62"/><line x1="1121.74" y1="535.3" x2="1121.61" y2="555.4" stroke="#c9d6e3" stroke-width="0.77" stroke-opacity="0.5"/><line x1="1124.47" y1="534.8" x2="1124.26" y2="555.8" stroke="#3a4d63" stroke-width="0.77" stroke-opacity="0.62"/><line x1="1125.99" y1="535.3" x2="1125.74" y2="555.4" stroke="#c9d6e3" stroke-width="0.77" stroke-opacity="0.5"/><line x1="1128.28" y1="534.8" x2="1127.96" y2="555.8" stroke="#3a4d63" stroke-width="0.77" stroke-opacity="0.62"/><line x1="1129.37" y1="535.3" x2="1129.01" y2="555.4" stroke="#c9d6e3" stroke-width="0.77" stroke-opacity="0.5"/><rect x="1095" y="523" width="44.5" height="12.5" fill="url(#gBlueD)" rx="3"/><rect x="1096.2" y="523.2" width="42.1" height="1.42" fill="#c9d6e3" rx="0.4" fill-opacity="0.55"/><rect x="1096.2" y="533.62" width="42.1" height="1.77" fill="#3a4d63" rx="0.4" fill-opacity="0.45"/><rect x="1095.6" y="526.12" width="2.01" height="6.5" rx="1.01" fill="#5a728d" stroke="#c9d6e3" stroke-opacity="0.8" stroke-width="0.62"/><rect x="1099.62" y="526.12" width="2.86" height="6.5" rx="1.43" fill="#5a728d" stroke="#c9d6e3" stroke-opacity="0.8" stroke-width="0.62"/><rect x="1105.15" y="526.12" width="3.5" height="6.5" rx="1.75" fill="#5a728d" stroke="#c9d6e3" stroke-opacity="0.8" stroke-width="0.62"/><rect x="1111.76" y="526.12" width="3.85" height="6.5" rx="1.92" fill="#5a728d" stroke="#c9d6e3" stroke-opacity="0.8" stroke-width="0.62"/><rect x="1118.89" y="526.12" width="3.85" height="6.5" rx="1.92" fill="#5a728d" stroke="#c9d6e3" stroke-opacity="0.8" stroke-width="0.62"/><rect x="1125.85" y="526.12" width="3.5" height="6.5" rx="1.75" fill="#5a728d" stroke="#c9d6e3" stroke-opacity="0.8" stroke-width="0.62"/><rect x="1132.03" y="526.12" width="2.86" height="6.5" rx="1.43" fill="#5a728d" stroke="#c9d6e3" stroke-opacity="0.8" stroke-width="0.62"/><rect x="1136.89" y="526.12" width="2.01" height="6.5" rx="1.01" fill="#5a728d" stroke="#c9d6e3" stroke-opacity="0.8" stroke-width="0.62"/><rect x="1104" y="519" width="29" height="4.5" fill="url(#gRing)" rx="1.6"/><rect x="1084" y="493.5" width="67.6" height="26.1" fill="url(#gTorus)" rx="11.48"/><rect x="1084" y="493.5" width="67.6" height="26.1" fill="url(#gTorusH)" rx="11.48"/><ellipse cx="1117.8" cy="502.61" rx="16.22" ry="13.79" fill="url(#gGlow)"/><rect x="1110.55" y="494.5" width="14.5" height="16.23" fill="#ffeec2" rx="1.5"/><rect x="1111.55" y="496.5" width="12.5" height="13.43" fill="#fffbee" rx="1.5"/><rect x="1104" y="490.5" width="29" height="4" fill="url(#gRing)" rx="1.6"/><rect x="1095.8" y="479" width="44.2" height="11.6" fill="url(#gBlueD)" rx="3"/><rect x="1097" y="479.2" width="41.8" height="1.31" fill="#c9d6e3" rx="0.4" fill-opacity="0.55"/><rect x="1097" y="488.86" width="41.8" height="1.64" fill="#3a4d63" rx="0.4" fill-opacity="0.45"/><rect x="1096.39" y="481.9" width="2" height="6.03" rx="1" fill="#5a728d" stroke="#c9d6e3" stroke-opacity="0.8" stroke-width="0.58"/><rect x="1100.39" y="481.9" width="2.84" height="6.03" rx="1.42" fill="#5a728d" stroke="#c9d6e3" stroke-opacity="0.8" stroke-width="0.58"/><rect x="1105.88" y="481.9" width="3.48" height="6.03" rx="1.74" fill="#5a728d" stroke="#c9d6e3" stroke-opacity="0.8" stroke-width="0.58"/><rect x="1112.45" y="481.9" width="3.82" height="6.03" rx="1.91" fill="#5a728d" stroke="#c9d6e3" stroke-opacity="0.8" stroke-width="0.58"/><rect x="1119.53" y="481.9" width="3.82" height="6.03" rx="1.91" fill="#5a728d" stroke="#c9d6e3" stroke-opacity="0.8" stroke-width="0.58"/><rect x="1126.44" y="481.9" width="3.48" height="6.03" rx="1.74" fill="#5a728d" stroke="#c9d6e3" stroke-opacity="0.8" stroke-width="0.58"/><rect x="1132.58" y="481.9" width="2.84" height="6.03" rx="1.42" fill="#5a728d" stroke="#c9d6e3" stroke-opacity="0.8" stroke-width="0.58"/><rect x="1137.41" y="481.9" width="2" height="6.03" rx="1" fill="#5a728d" stroke="#c9d6e3" stroke-opacity="0.8" stroke-width="0.58"/><ellipse cx="1106.38" cy="457.8" rx="1.38" ry="1.16" fill="#6e86a1"/><ellipse cx="1109.68" cy="457.8" rx="1.92" ry="1.62" fill="#6e86a1"/><ellipse cx="1113.91" cy="457.8" rx="2.3" ry="1.94" fill="#6e86a1"/><ellipse cx="1118.65" cy="457.8" rx="2.44" ry="2.05" fill="#6e86a1"/><ellipse cx="1123.39" cy="457.8" rx="2.3" ry="1.94" fill="#6e86a1"/><ellipse cx="1127.62" cy="457.8" rx="1.92" ry="1.62" fill="#6e86a1"/><ellipse cx="1130.92" cy="457.8" rx="1.38" ry="1.16" fill="#6e86a1"/><path d="M1105 457.5 L1132.3 457.5 L1131.9 480 L1105.4 480Z" fill="url(#gBlueD)"/><line x1="1106.1" y1="458.3" x2="1106.47" y2="479.4" stroke="#c9d6e3" stroke-width="0.78" stroke-opacity="0.5"/><line x1="1107.75" y1="457.8" x2="1108.07" y2="479.8" stroke="#3a4d63" stroke-width="0.78" stroke-opacity="0.62"/><line x1="1109.29" y1="458.3" x2="1109.57" y2="479.4" stroke="#c9d6e3" stroke-width="0.78" stroke-opacity="0.5"/><line x1="1111.6" y1="457.8" x2="1111.81" y2="479.8" stroke="#3a4d63" stroke-width="0.78" stroke-opacity="0.62"/><line x1="1113.45" y1="458.3" x2="1113.6" y2="479.4" stroke="#c9d6e3" stroke-width="0.78" stroke-opacity="0.5"/><line x1="1116.21" y1="457.8" x2="1116.28" y2="479.8" stroke="#3a4d63" stroke-width="0.78" stroke-opacity="0.62"/><line x1="1118.16" y1="458.3" x2="1118.18" y2="479.4" stroke="#c9d6e3" stroke-width="0.78" stroke-opacity="0.5"/><line x1="1121.09" y1="457.8" x2="1121.02" y2="479.8" stroke="#3a4d63" stroke-width="0.78" stroke-opacity="0.62"/><line x1="1122.93" y1="458.3" x2="1122.81" y2="479.4" stroke="#c9d6e3" stroke-width="0.78" stroke-opacity="0.5"/><line x1="1125.7" y1="457.8" x2="1125.49" y2="479.8" stroke="#3a4d63" stroke-width="0.78" stroke-opacity="0.62"/><line x1="1127.24" y1="458.3" x2="1126.99" y2="479.4" stroke="#c9d6e3" stroke-width="0.78" stroke-opacity="0.5"/><line x1="1129.55" y1="457.8" x2="1129.23" y2="479.8" stroke="#3a4d63" stroke-width="0.78" stroke-opacity="0.62"/><line x1="1130.65" y1="458.3" x2="1130.3" y2="479.4" stroke="#c9d6e3" stroke-width="0.78" stroke-opacity="0.5"/><rect x="1108.5" y="440" width="20" height="18.5" fill="url(#gWarmV)"/><rect x="1098.8" y="386.3" width="39" height="55.5" fill="url(#gBodyGlass)" rx="7.5"/><rect x="1099.2" y="402.95" width="38.2" height="22.2" fill="#dde1e8" fill-opacity="0.62"/><ellipse cx="1118.3" cy="414.05" rx="14.04" ry="23.31" fill="url(#gGlow)"/><rect x="1110.8" y="400.18" width="15" height="30.53" fill="#fff8e6" rx="2.5" fill-opacity="0.96"/><rect x="1108.5" y="370" width="20" height="18" fill="url(#gWarmV2)"/><rect x="1108.3" y="367.8" width="20.4" height="2.6" fill="#6d5647" rx="0.8"/></g>

<g id="sconce1"><ellipse cx="1511" cy="374.2" rx="38.7" ry="47.7" fill="url(#gPlateSide)"/><rect x="1491" y="326.5" width="20" height="95.4" fill="url(#gPlateSide)"/><ellipse cx="1491" cy="374.2" rx="38.7" ry="47.7" fill="url(#gPlate)"/><ellipse cx="1491" cy="374.2" rx="38" ry="47" fill="none" stroke="#fbf3e2" stroke-width="1.1" stroke-opacity="0.85"/><rect x="1493" y="384.6" width="33.5" height="11" fill="#4f3a28" rx="2" fill-opacity="0.82"/><rect x="1495" y="388.2" width="30.5" height="4.4" fill="#d9bd8f" rx="1.5" fill-opacity="0.85"/><path d="M1420.6 327 V370 Q1420.6 390 1440.5 390 L1491.5 390" fill="none" stroke="#5c4531" stroke-width="11.7" stroke-linecap="round" stroke-linejoin="round"/><path d="M1420.6 327 V370 Q1420.6 390 1440.5 390 L1491.5 390" fill="none" stroke="#c9ab88" stroke-width="6.55" stroke-linecap="round" stroke-linejoin="round"/><path d="M1420.6 327 V370 Q1420.6 390 1440.5 390 L1491.5 390" fill="none" stroke="#fbf3e6" stroke-width="2.81" stroke-linecap="round" stroke-linejoin="round"/><rect x="1411" y="324.4" width="19.6" height="8.6" fill="url(#gGold)" rx="2"/><ellipse cx="1493.3" cy="390.2" rx="4.2" ry="7.2" fill="none" stroke="#f3e4c8" stroke-width="1.6"/><ellipse cx="1493.3" cy="390.2" rx="5.2" ry="8" fill="none" stroke="#4f3a28" stroke-width="0.8"/><rect x="1407.95" y="119.3" width="25.3" height="133.3" fill="url(#gTube)" rx="1.5"/><line x1="1409.09" y1="119.8" x2="1409.09" y2="185.95" stroke="#ffffff" stroke-width="2.28" stroke-opacity="0.7"/><line x1="1432.11" y1="119.8" x2="1432.11" y2="185.95" stroke="#ffffff" stroke-width="2.28" stroke-opacity="0.7"/><line x1="1411.59" y1="120.3" x2="1411.59" y2="179.28" stroke="#9aa4b5" stroke-width="1.14" stroke-opacity="0.4"/><line x1="1429.61" y1="120.3" x2="1429.61" y2="179.28" stroke="#9aa4b5" stroke-width="1.14" stroke-opacity="0.4"/><ellipse cx="1420.6" cy="120" rx="12.55" ry="2.53" fill="#ffffff" fill-opacity="0.85"/><ellipse cx="1420.6" cy="231.11" rx="12.14" ry="21.49" fill="url(#gGlow)"/><ellipse cx="1402.47" cy="252.4" rx="2.52" ry="2.11" fill="#8aa1bb"/><ellipse cx="1408.57" cy="252.4" rx="3.59" ry="2.2" fill="#8aa1bb"/><ellipse cx="1416.38" cy="252.4" rx="4.22" ry="2.2" fill="#8aa1bb"/><ellipse cx="1424.82" cy="252.4" rx="4.22" ry="2.2" fill="#8aa1bb"/><ellipse cx="1432.63" cy="252.4" rx="3.59" ry="2.2" fill="#8aa1bb"/><ellipse cx="1438.73" cy="252.4" rx="2.52" ry="2.11" fill="#8aa1bb"/><path d="M1399.95 252.1 L1441.25 252.1 L1440.42 297.3 L1400.78 297.3Z" fill="url(#gBlueL)"/><line x1="1401.96" y1="252.9" x2="1402.71" y2="296.7" stroke="#dde6ef" stroke-width="1.38" stroke-opacity="0.5"/><line x1="1404.98" y1="252.4" x2="1405.61" y2="297.1" stroke="#54708f" stroke-width="1.38" stroke-opacity="0.62"/><line x1="1407.86" y1="252.9" x2="1408.37" y2="296.7" stroke="#dde6ef" stroke-width="1.38" stroke-opacity="0.5"/><line x1="1412.17" y1="252.4" x2="1412.51" y2="297.1" stroke="#54708f" stroke-width="1.38" stroke-opacity="0.62"/><line x1="1415.54" y1="252.9" x2="1415.74" y2="296.7" stroke="#dde6ef" stroke-width="1.38" stroke-opacity="0.5"/><line x1="1420.6" y1="252.4" x2="1420.6" y2="297.1" stroke="#54708f" stroke-width="1.38" stroke-opacity="0.62"/><line x1="1423.97" y1="252.9" x2="1423.84" y2="296.7" stroke="#dde6ef" stroke-width="1.38" stroke-opacity="0.5"/><line x1="1429.03" y1="252.4" x2="1428.69" y2="297.1" stroke="#54708f" stroke-width="1.38" stroke-opacity="0.62"/><line x1="1431.91" y1="252.9" x2="1431.45" y2="296.7" stroke="#dde6ef" stroke-width="1.38" stroke-opacity="0.5"/><line x1="1436.22" y1="252.4" x2="1435.59" y2="297.1" stroke="#54708f" stroke-width="1.38" stroke-opacity="0.62"/><line x1="1438.23" y1="252.9" x2="1437.53" y2="296.7" stroke="#dde6ef" stroke-width="1.38" stroke-opacity="0.5"/><path d="M1401.16 295.8 V254.87 A1.31 1.31 0 0 1 1403.77 254.87 V295.8" fill="#7891ad" fill-opacity="0.35" stroke="#dde6ef" stroke-opacity="0.7" stroke-width="0.5"/><path d="M1406.71 295.8 V256.05 A1.87 1.87 0 0 1 1410.44 256.05 V295.8" fill="#7891ad" fill-opacity="0.35" stroke="#dde6ef" stroke-opacity="0.7" stroke-width="0.72"/><path d="M1414.19 295.8 V256.74 A2.19 2.19 0 0 1 1418.58 256.74 V295.8" fill="#7891ad" fill-opacity="0.35" stroke="#dde6ef" stroke-opacity="0.7" stroke-width="0.84"/><path d="M1422.62 295.8 V256.74 A2.19 2.19 0 0 1 1427.01 256.74 V295.8" fill="#7891ad" fill-opacity="0.35" stroke="#dde6ef" stroke-opacity="0.7" stroke-width="0.84"/><path d="M1430.76 295.8 V256.05 A1.87 1.87 0 0 1 1434.49 256.05 V295.8" fill="#7891ad" fill-opacity="0.35" stroke="#dde6ef" stroke-opacity="0.7" stroke-width="0.72"/><path d="M1437.43 295.8 V254.87 A1.31 1.31 0 0 1 1440.04 254.87 V295.8" fill="#7891ad" fill-opacity="0.35" stroke="#dde6ef" stroke-opacity="0.7" stroke-width="0.5"/><rect x="1378.7" y="296.3" width="85" height="21.5" fill="url(#gBlueL)" rx="3"/><rect x="1379.9" y="296.5" width="82.6" height="2.6" fill="#dde6ef" rx="0.4" fill-opacity="0.55"/><rect x="1379.9" y="314.57" width="82.6" height="3.12" fill="#54708f" rx="0.4" fill-opacity="0.45"/><rect x="1380" y="301.68" width="4.53" height="11.18" rx="2.27" fill="#7891ad" stroke="#dde6ef" stroke-opacity="0.8" stroke-width="1"/><rect x="1389.15" y="301.68" width="6.58" height="11.18" rx="3.29" fill="#7891ad" stroke="#dde6ef" stroke-opacity="0.8" stroke-width="1"/><rect x="1401.91" y="301.68" width="7.99" height="11.18" rx="3.73" fill="#7891ad" stroke="#dde6ef" stroke-opacity="0.8" stroke-width="1"/><rect x="1416.95" y="301.68" width="8.5" height="11.18" rx="3.73" fill="#7891ad" stroke="#dde6ef" stroke-opacity="0.8" stroke-width="1"/><rect x="1432.49" y="301.68" width="7.99" height="11.18" rx="3.73" fill="#7891ad" stroke="#dde6ef" stroke-opacity="0.8" stroke-width="1"/><rect x="1446.67" y="301.68" width="6.58" height="11.18" rx="3.29" fill="#7891ad" stroke="#dde6ef" stroke-opacity="0.8" stroke-width="1"/><rect x="1457.86" y="301.68" width="4.53" height="11.18" rx="2.27" fill="#7891ad" stroke="#dde6ef" stroke-opacity="0.8" stroke-width="1"/><rect x="1385.7" y="317.5" width="71" height="2.5" fill="#f4f2ee" rx="1" fill-opacity="0.8"/><path d="M1390.7 319 L1451.7 319 L1448.7 324.5 Q1421.2 327.2 1393.7 324.5Z" fill="#8aa1bb"/><ellipse cx="1421.2" cy="324.1" rx="22" ry="1.7" fill="#f7f5f0" fill-opacity="0.92"/></g>

<g id="sconce2"><ellipse cx="1461.9" cy="943.2" rx="41.1" ry="40.8" fill="url(#gPlate2)"/><ellipse cx="1461.9" cy="943.2" rx="40.3" ry="40" fill="none" stroke="#fdf6e6" stroke-width="1.3" stroke-opacity="0.9"/><ellipse cx="1461.9" cy="943.2" rx="41.1" ry="40.8" fill="none" stroke="#6b523a" stroke-width="0.7" stroke-opacity="0.55"/><path d="M1364.1 907 V940 Q1364.1 956.7 1381 956.7 L1442 956.7" fill="none" stroke="#5c4531" stroke-width="9.6" stroke-linecap="round" stroke-linejoin="round"/><path d="M1364.1 907 V940 Q1364.1 956.7 1381 956.7 L1442 956.7" fill="none" stroke="#c9ab88" stroke-width="5.38" stroke-linecap="round" stroke-linejoin="round"/><path d="M1364.1 907 V940 Q1364.1 956.7 1381 956.7 L1442 956.7" fill="none" stroke="#fbf3e6" stroke-width="2.3" stroke-linecap="round" stroke-linejoin="round"/><path d="M1553 907 V940 Q1553 956.4 1536 956.4 L1482 956.4" fill="none" stroke="#5c4531" stroke-width="9.6" stroke-linecap="round" stroke-linejoin="round"/><path d="M1553 907 V940 Q1553 956.4 1536 956.4 L1482 956.4" fill="none" stroke="#c9ab88" stroke-width="5.38" stroke-linecap="round" stroke-linejoin="round"/><path d="M1553 907 V940 Q1553 956.4 1536 956.4 L1482 956.4" fill="none" stroke="#fbf3e6" stroke-width="2.3" stroke-linecap="round" stroke-linejoin="round"/><rect x="1355" y="899" width="17.2" height="8.2" fill="url(#gGold)" rx="2"/><rect x="1545" y="899" width="17.2" height="8.2" fill="url(#gGold)" rx="2"/><rect x="1436.4" y="944.6" width="50.8" height="25" fill="url(#gBlock)" rx="5"/><rect x="1453.5" y="945" width="17" height="24.2" fill="#f9ecd2" rx="2" fill-opacity="0.5"/><rect x="1459.8" y="945" width="4" height="24.2" fill="#4f3a28" fill-opacity="0.85"/><ellipse cx="1443.6" cy="956.8" rx="3.2" ry="5" fill="#ead3aa" stroke="#4f3a28" stroke-width="0.9"/><ellipse cx="1480.2" cy="956.6" rx="3.2" ry="5" fill="#ead3aa" stroke="#4f3a28" stroke-width="0.9"/><rect x="1353.95" y="720.4" width="22.5" height="117.2" fill="url(#gTube)" rx="1.5"/><line x1="1354.96" y1="720.9" x2="1354.96" y2="779" stroke="#ffffff" stroke-width="2.02" stroke-opacity="0.7"/><line x1="1375.44" y1="720.9" x2="1375.44" y2="779" stroke="#ffffff" stroke-width="2.02" stroke-opacity="0.7"/><line x1="1357.19" y1="721.4" x2="1357.19" y2="773.14" stroke="#9aa4b5" stroke-width="1.01" stroke-opacity="0.4"/><line x1="1373.21" y1="721.4" x2="1373.21" y2="773.14" stroke="#9aa4b5" stroke-width="1.01" stroke-opacity="0.4"/><ellipse cx="1365.2" cy="721.1" rx="11.15" ry="2.25" fill="#ffffff" fill-opacity="0.85"/><ellipse cx="1365.2" cy="818.71" rx="10.8" ry="18.89" fill="url(#gGlow)"/><ellipse cx="1349.22" cy="837.4" rx="2.22" ry="1.86" fill="#8aa1bb"/><ellipse cx="1354.6" cy="837.4" rx="3.17" ry="2.2" fill="#8aa1bb"/><ellipse cx="1361.48" cy="837.4" rx="3.72" ry="2.2" fill="#8aa1bb"/><ellipse cx="1368.92" cy="837.4" rx="3.72" ry="2.2" fill="#8aa1bb"/><ellipse cx="1375.8" cy="837.4" rx="3.17" ry="2.2" fill="#8aa1bb"/><ellipse cx="1381.18" cy="837.4" rx="2.22" ry="1.86" fill="#8aa1bb"/><path d="M1347 837.1 L1383.4 837.1 L1382.67 877 L1347.73 877Z" fill="url(#gBlueL)"/><line x1="1348.77" y1="837.9" x2="1349.43" y2="876.4" stroke="#dde6ef" stroke-width="1.21" stroke-opacity="0.5"/><line x1="1351.43" y1="837.4" x2="1351.98" y2="876.8" stroke="#54708f" stroke-width="1.21" stroke-opacity="0.62"/><line x1="1353.97" y1="837.9" x2="1354.42" y2="876.4" stroke="#dde6ef" stroke-width="1.21" stroke-opacity="0.5"/><line x1="1357.77" y1="837.4" x2="1358.07" y2="876.8" stroke="#54708f" stroke-width="1.21" stroke-opacity="0.62"/><line x1="1360.74" y1="837.9" x2="1360.92" y2="876.4" stroke="#dde6ef" stroke-width="1.21" stroke-opacity="0.5"/><line x1="1365.2" y1="837.4" x2="1365.2" y2="876.8" stroke="#54708f" stroke-width="1.21" stroke-opacity="0.62"/><line x1="1368.17" y1="837.9" x2="1368.05" y2="876.4" stroke="#dde6ef" stroke-width="1.21" stroke-opacity="0.5"/><line x1="1372.63" y1="837.4" x2="1372.33" y2="876.8" stroke="#54708f" stroke-width="1.21" stroke-opacity="0.62"/><line x1="1375.17" y1="837.9" x2="1374.77" y2="876.4" stroke="#dde6ef" stroke-width="1.21" stroke-opacity="0.5"/><line x1="1378.97" y1="837.4" x2="1378.42" y2="876.8" stroke="#54708f" stroke-width="1.21" stroke-opacity="0.62"/><line x1="1380.74" y1="837.9" x2="1380.12" y2="876.4" stroke="#dde6ef" stroke-width="1.21" stroke-opacity="0.5"/><path d="M1348.06 875.5 V839.54 A1.15 1.15 0 0 1 1350.37 839.54 V875.5" fill="#7891ad" fill-opacity="0.35" stroke="#dde6ef" stroke-opacity="0.7" stroke-width="0.5"/><path d="M1352.95 875.5 V840.58 A1.65 1.65 0 0 1 1356.25 840.58 V875.5" fill="#7891ad" fill-opacity="0.35" stroke="#dde6ef" stroke-opacity="0.7" stroke-width="0.63"/><path d="M1359.55 875.5 V841.19 A1.93 1.93 0 0 1 1363.42 841.19 V875.5" fill="#7891ad" fill-opacity="0.35" stroke="#dde6ef" stroke-opacity="0.7" stroke-width="0.74"/><path d="M1366.98 875.5 V841.19 A1.93 1.93 0 0 1 1370.85 841.19 V875.5" fill="#7891ad" fill-opacity="0.35" stroke="#dde6ef" stroke-opacity="0.7" stroke-width="0.74"/><path d="M1374.15 875.5 V840.58 A1.65 1.65 0 0 1 1377.45 840.58 V875.5" fill="#7891ad" fill-opacity="0.35" stroke="#dde6ef" stroke-opacity="0.7" stroke-width="0.63"/><path d="M1380.03 875.5 V839.54 A1.15 1.15 0 0 1 1382.34 839.54 V875.5" fill="#7891ad" fill-opacity="0.35" stroke="#dde6ef" stroke-opacity="0.7" stroke-width="0.5"/><rect x="1326.9" y="876" width="75.4" height="19.6" fill="url(#gBlueL)" rx="3"/><rect x="1328.1" y="876.2" width="73" height="2.35" fill="#dde6ef" rx="0.4" fill-opacity="0.55"/><rect x="1328.1" y="892.66" width="73" height="2.84" fill="#54708f" rx="0.4" fill-opacity="0.45"/><rect x="1328.05" y="880.9" width="4.02" height="10.19" rx="2.01" fill="#7891ad" stroke="#dde6ef" stroke-opacity="0.8" stroke-width="0.98"/><rect x="1336.17" y="880.9" width="5.84" height="10.19" rx="2.92" fill="#7891ad" stroke="#dde6ef" stroke-opacity="0.8" stroke-width="0.98"/><rect x="1347.49" y="880.9" width="7.09" height="10.19" rx="3.4" fill="#7891ad" stroke="#dde6ef" stroke-opacity="0.8" stroke-width="0.98"/><rect x="1360.83" y="880.9" width="7.54" height="10.19" rx="3.4" fill="#7891ad" stroke="#dde6ef" stroke-opacity="0.8" stroke-width="0.98"/><rect x="1374.62" y="880.9" width="7.09" height="10.19" rx="3.4" fill="#7891ad" stroke="#dde6ef" stroke-opacity="0.8" stroke-width="0.98"/><rect x="1387.19" y="880.9" width="5.84" height="10.19" rx="2.92" fill="#7891ad" stroke="#dde6ef" stroke-opacity="0.8" stroke-width="0.98"/><rect x="1397.12" y="880.9" width="4.02" height="10.19" rx="2.01" fill="#7891ad" stroke="#dde6ef" stroke-opacity="0.8" stroke-width="0.98"/><rect x="1333.1" y="895.3" width="63" height="2.5" fill="#f4f2ee" rx="1" fill-opacity="0.8"/><path d="M1338.1 896.8 L1391.1 896.8 L1388.1 901 Q1364.6 903.7 1341.1 901Z" fill="#8aa1bb"/><ellipse cx="1364.6" cy="900.6" rx="18.8" ry="1.7" fill="#f7f5f0" fill-opacity="0.92"/><rect x="1542.85" y="718" width="22.5" height="118" fill="url(#gTube)" rx="1.5"/><line x1="1543.86" y1="718.5" x2="1543.86" y2="777" stroke="#ffffff" stroke-width="2.02" stroke-opacity="0.7"/><line x1="1564.34" y1="718.5" x2="1564.34" y2="777" stroke="#ffffff" stroke-width="2.02" stroke-opacity="0.7"/><line x1="1546.09" y1="719" x2="1546.09" y2="771.1" stroke="#9aa4b5" stroke-width="1.01" stroke-opacity="0.4"/><line x1="1562.11" y1="719" x2="1562.11" y2="771.1" stroke="#9aa4b5" stroke-width="1.01" stroke-opacity="0.4"/><ellipse cx="1554.1" cy="718.7" rx="11.15" ry="2.25" fill="#ffffff" fill-opacity="0.85"/><ellipse cx="1554.1" cy="816.98" rx="10.8" ry="19.02" fill="url(#gGlow)"/><ellipse cx="1539" cy="835.8" rx="2.1" ry="1.76" fill="#8aa1bb"/><ellipse cx="1544.08" cy="835.8" rx="2.99" ry="2.2" fill="#8aa1bb"/><ellipse cx="1550.59" cy="835.8" rx="3.51" ry="2.2" fill="#8aa1bb"/><ellipse cx="1557.61" cy="835.8" rx="3.51" ry="2.2" fill="#8aa1bb"/><ellipse cx="1564.12" cy="835.8" rx="2.99" ry="2.2" fill="#8aa1bb"/><ellipse cx="1569.2" cy="835.8" rx="2.1" ry="1.76" fill="#8aa1bb"/><path d="M1536.9 835.5 L1571.3 835.5 L1570.61 876 L1537.59 876Z" fill="url(#gBlueL)"/><line x1="1538.58" y1="836.3" x2="1539.2" y2="875.4" stroke="#dde6ef" stroke-width="1.15" stroke-opacity="0.5"/><line x1="1541.09" y1="835.8" x2="1541.61" y2="875.8" stroke="#54708f" stroke-width="1.15" stroke-opacity="0.62"/><line x1="1543.48" y1="836.3" x2="1543.91" y2="875.4" stroke="#dde6ef" stroke-width="1.15" stroke-opacity="0.5"/><line x1="1547.08" y1="835.8" x2="1547.36" y2="875.8" stroke="#54708f" stroke-width="1.15" stroke-opacity="0.62"/><line x1="1549.89" y1="836.3" x2="1550.05" y2="875.4" stroke="#dde6ef" stroke-width="1.15" stroke-opacity="0.5"/><line x1="1554.1" y1="835.8" x2="1554.1" y2="875.8" stroke="#54708f" stroke-width="1.15" stroke-opacity="0.62"/><line x1="1556.91" y1="836.3" x2="1556.8" y2="875.4" stroke="#dde6ef" stroke-width="1.15" stroke-opacity="0.5"/><line x1="1561.12" y1="835.8" x2="1560.84" y2="875.8" stroke="#54708f" stroke-width="1.15" stroke-opacity="0.62"/><line x1="1563.52" y1="836.3" x2="1563.14" y2="875.4" stroke="#dde6ef" stroke-width="1.15" stroke-opacity="0.5"/><line x1="1567.11" y1="835.8" x2="1566.59" y2="875.8" stroke="#54708f" stroke-width="1.15" stroke-opacity="0.62"/><line x1="1568.79" y1="836.3" x2="1568.2" y2="875.4" stroke="#dde6ef" stroke-width="1.15" stroke-opacity="0.5"/><path d="M1537.91 874.5 V837.8 A1.09 1.09 0 0 1 1540.08 837.8 V874.5" fill="#7891ad" fill-opacity="0.35" stroke="#dde6ef" stroke-opacity="0.7" stroke-width="0.5"/><path d="M1542.53 874.5 V838.79 A1.56 1.56 0 0 1 1545.64 838.79 V874.5" fill="#7891ad" fill-opacity="0.35" stroke="#dde6ef" stroke-opacity="0.7" stroke-width="0.6"/><path d="M1548.76 874.5 V839.36 A1.83 1.83 0 0 1 1552.41 839.36 V874.5" fill="#7891ad" fill-opacity="0.35" stroke="#dde6ef" stroke-opacity="0.7" stroke-width="0.7"/><path d="M1555.79 874.5 V839.36 A1.83 1.83 0 0 1 1559.44 839.36 V874.5" fill="#7891ad" fill-opacity="0.35" stroke="#dde6ef" stroke-opacity="0.7" stroke-width="0.7"/><path d="M1562.56 874.5 V838.79 A1.56 1.56 0 0 1 1565.67 838.79 V874.5" fill="#7891ad" fill-opacity="0.35" stroke="#dde6ef" stroke-opacity="0.7" stroke-width="0.6"/><path d="M1568.12 874.5 V837.8 A1.09 1.09 0 0 1 1570.29 837.8 V874.5" fill="#7891ad" fill-opacity="0.35" stroke="#dde6ef" stroke-opacity="0.7" stroke-width="0.5"/><rect x="1516.95" y="875" width="74.7" height="19.9" fill="url(#gBlueL)" rx="3"/><rect x="1518.15" y="875.2" width="72.3" height="2.39" fill="#dde6ef" rx="0.4" fill-opacity="0.55"/><rect x="1518.15" y="891.91" width="72.3" height="2.88" fill="#54708f" rx="0.4" fill-opacity="0.45"/><rect x="1518.09" y="879.98" width="3.99" height="10.35" rx="1.99" fill="#7891ad" stroke="#dde6ef" stroke-opacity="0.8" stroke-width="0.99"/><rect x="1526.14" y="879.98" width="5.78" height="10.35" rx="2.89" fill="#7891ad" stroke="#dde6ef" stroke-opacity="0.8" stroke-width="0.99"/><rect x="1537.35" y="879.98" width="7.03" height="10.35" rx="3.45" fill="#7891ad" stroke="#dde6ef" stroke-opacity="0.8" stroke-width="0.99"/><rect x="1550.57" y="879.98" width="7.47" height="10.35" rx="3.45" fill="#7891ad" stroke="#dde6ef" stroke-opacity="0.8" stroke-width="0.99"/><rect x="1564.23" y="879.98" width="7.03" height="10.35" rx="3.45" fill="#7891ad" stroke="#dde6ef" stroke-opacity="0.8" stroke-width="0.99"/><rect x="1576.68" y="879.98" width="5.78" height="10.35" rx="2.89" fill="#7891ad" stroke="#dde6ef" stroke-opacity="0.8" stroke-width="0.99"/><rect x="1586.52" y="879.98" width="3.99" height="10.35" rx="1.99" fill="#7891ad" stroke="#dde6ef" stroke-opacity="0.8" stroke-width="0.99"/><rect x="1522.8" y="894.6" width="63" height="2.5" fill="#f4f2ee" rx="1" fill-opacity="0.8"/><path d="M1527.8 896.1 L1580.8 896.1 L1577.8 900.5 Q1554.3 903.2 1530.8 900.5Z" fill="#8aa1bb"/><ellipse cx="1554.3" cy="900.1" rx="18.8" ry="1.7" fill="#f7f5f0" fill-opacity="0.92"/></g>

<g id="labels">
<text class="t" x="198.15" y="701.1" textLength="161.69" lengthAdjust="spacingAndGlyphs">LH53121</text>
<text class="b" x="182.87" y="736.8" textLength="192.92" lengthAdjust="spacingAndGlyphs">золото/белый/</text>
<text class="b" x="203.47" y="772.8" textLength="151.75" lengthAdjust="spacingAndGlyphs">серо-синий</text>
<text class="b" x="209.78" y="808.7" textLength="140.53" lengthAdjust="spacingAndGlyphs">D160*1880</text>
<text class="t" x="724.07" y="700.9" textLength="172.19" lengthAdjust="spacingAndGlyphs">LH53124</text>
<text class="b" x="714.37" y="736.6" textLength="192.52" lengthAdjust="spacingAndGlyphs">золото/белый/</text>
<text class="b" x="734.77" y="772.6" textLength="151.75" lengthAdjust="spacingAndGlyphs">серо-синий</text>
<text class="b" x="740.46" y="808.5" textLength="139.61" lengthAdjust="spacingAndGlyphs">D660*1120</text>
<text class="t" x="443.18" y="1188.9" textLength="172.05" lengthAdjust="spacingAndGlyphs">LH53126</text>
<text class="b" x="433.27" y="1224.6" textLength="192.41" lengthAdjust="spacingAndGlyphs">золото/белый/</text>
<text class="b" x="453.62" y="1260.6" textLength="151.75" lengthAdjust="spacingAndGlyphs">серо-синий</text>
<text class="b" x="459.96" y="1296.5" textLength="140.12" lengthAdjust="spacingAndGlyphs">D720*1120</text>
<text class="t" x="1034.1" y="1188.9" textLength="170.41" lengthAdjust="spacingAndGlyphs">LH53132</text>
<text class="b" x="1023.27" y="1224.6" textLength="192.41" lengthAdjust="spacingAndGlyphs">золото/белый/</text>
<text class="b" x="1043.62" y="1260.6" textLength="151.75" lengthAdjust="spacingAndGlyphs">серо-синий</text>
<text class="b" x="1049.48" y="1296.5" textLength="140.7" lengthAdjust="spacingAndGlyphs">D250*1635</text>
<text class="t" x="1374.85" y="512.9" textLength="173.57" lengthAdjust="spacingAndGlyphs">LH53128</text>
<text class="b" x="1365.27" y="548.6" textLength="193.02" lengthAdjust="spacingAndGlyphs">золото/белый/</text>
<text class="b" x="1385.92" y="584.6" textLength="151.75" lengthAdjust="spacingAndGlyphs">серо-синий</text>
<text class="b" x="1381.41" y="620.5" textLength="161.17" lengthAdjust="spacingAndGlyphs">100*190*290</text>
<text class="t" x="1373.12" y="1074.9" textLength="175.24" lengthAdjust="spacingAndGlyphs">LH53130</text>
<text class="b" x="1364.67" y="1110.6" textLength="192.41" lengthAdjust="spacingAndGlyphs">золото/белый/</text>
<text class="b" x="1385.02" y="1146.6" textLength="151.75" lengthAdjust="spacingAndGlyphs">серо-синий</text>
<text class="b" x="1378.29" y="1182.5" textLength="162.8" lengthAdjust="spacingAndGlyphs">290*180*290</text>
</g>
</svg>
</body>
</html>
